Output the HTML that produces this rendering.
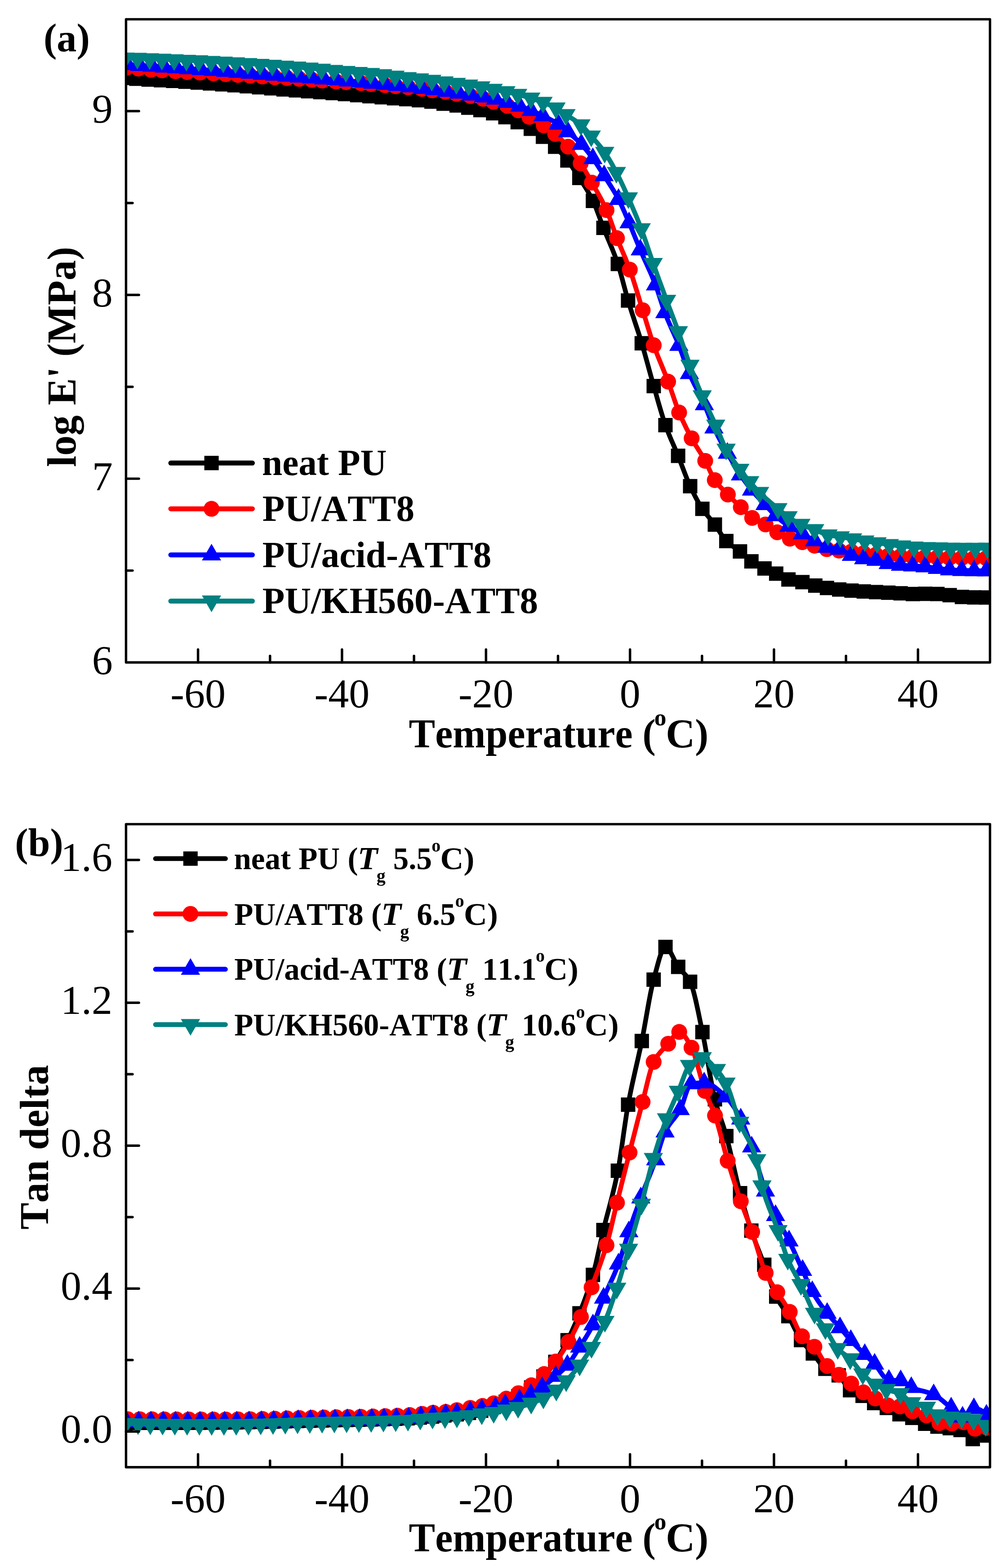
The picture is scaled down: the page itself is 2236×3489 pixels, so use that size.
<!DOCTYPE html><html><head><meta charset="utf-8"><style>html,body{margin:0;padding:0;background:#fff;}svg{display:block;font-kerning:none;}text{font-family:'Liberation Serif','Times New Roman',serif;}.tl{font-family:'Liberation Serif','Times New Roman',serif;font-size:92px;}.ax{font-family:'Liberation Serif','Times New Roman',serif;font-size:90px;font-weight:bold;}.lga{font-family:'Liberation Serif','Times New Roman',serif;font-size:80px;font-weight:bold;}.lgb{font-family:'Liberation Serif','Times New Roman',serif;font-size:69px;font-weight:bold;}.sub{font-size:44px;}.sup{font-size:44px;}</style></head><body>
<svg width="2236" height="3489" viewBox="0 0 2236 3489">
<rect width="2236" height="3489" fill="#fff"/>
<defs><clipPath id="ca"><rect x="280.4" y="42.9" width="1922.2" height="1431.1"/></clipPath><clipPath id="cb"><rect x="280.4" y="1833.9" width="1922.2" height="1430.8"/></clipPath></defs>
<g clip-path="url(#ca)">
<path d="M276.1 173.4 L279.1 173.6 L282.2 173.8 L285.2 174 L288.2 174.2 L291.3 174.4 L294.3 174.6 L297.3 174.8 L300.4 175 L303.4 175.2 L306.4 175.4 L309.5 175.6 L312.5 175.8 L315.5 176 L318.6 176.2 L321.6 176.5 L324.6 176.7 L327.7 176.9 L330.7 177 L333.7 177.2 L336.8 177.4 L339.8 177.6 L342.8 177.7 L345.9 177.9 L348.9 178 L351.9 178.2 L355 178.4 L358 178.5 L361 178.7 L364.1 178.8 L367.1 179 L370.1 179.2 L373.2 179.3 L376.2 179.5 L379.2 179.7 L382.3 179.8 L385.3 180 L388.3 180.2 L391.4 180.4 L394.4 180.6 L397.4 180.8 L400.5 181 L403.5 181.2 L406.5 181.4 L409.6 181.6 L412.6 181.8 L415.6 182 L418.7 182.2 L421.7 182.4 L424.7 182.6 L427.8 182.8 L430.8 183 L433.8 183.3 L436.9 183.5 L439.9 183.7 L442.9 183.9 L446 184.1 L449 184.3 L452 184.5 L455.1 184.7 L458.1 184.9 L461.1 185.1 L464.2 185.4 L467.2 185.6 L470.2 185.8 L473.3 186 L476.3 186.2 L479.3 186.5 L482.4 186.7 L485.4 186.9 L488.4 187.1 L491.5 187.4 L494.5 187.6 L497.5 187.8 L500.6 188.1 L503.6 188.3 L506.6 188.5 L509.7 188.8 L512.7 189 L515.7 189.2 L518.8 189.5 L521.8 189.7 L524.8 190 L527.9 190.2 L530.9 190.5 L533.9 190.7 L537 191 L540 191.2 L543 191.5 L546.1 191.7 L549.1 191.9 L552.1 192.2 L555.2 192.4 L558.2 192.7 L561.2 192.9 L564.3 193.2 L567.3 193.4 L570.3 193.7 L573.4 193.9 L576.4 194.2 L579.4 194.5 L582.5 194.7 L585.5 195 L588.5 195.2 L591.6 195.5 L594.6 195.8 L597.6 196 L600.7 196.3 L603.7 196.5 L606.7 196.8 L609.8 197.1 L612.8 197.3 L615.8 197.6 L618.9 197.9 L621.9 198.1 L624.9 198.4 L628 198.7 L631 198.9 L634 199.2 L637.1 199.4 L640.1 199.6 L643.1 199.9 L646.2 200.1 L649.2 200.3 L652.2 200.6 L655.3 200.8 L658.3 201 L661.3 201.2 L664.4 201.5 L667.4 201.7 L670.4 201.9 L673.5 202.1 L676.5 202.3 L679.5 202.5 L682.6 202.7 L685.6 203 L688.6 203.2 L691.7 203.4 L694.7 203.6 L697.7 203.8 L700.8 204.1 L703.8 204.3 L706.8 204.5 L709.9 204.7 L712.9 205 L715.9 205.2 L719 205.4 L722 205.7 L725 205.9 L728.1 206.1 L731.1 206.3 L734.1 206.6 L737.2 206.8 L740.2 207.1 L743.2 207.3 L746.3 207.5 L749.3 207.8 L752.3 208 L755.4 208.3 L758.4 208.5 L761.4 208.8 L764.5 209 L767.5 209.3 L770.5 209.5 L773.6 209.8 L776.6 210.1 L779.6 210.3 L782.7 210.6 L785.7 210.9 L788.7 211.1 L791.8 211.4 L794.8 211.7 L797.8 211.9 L800.9 212.2 L803.9 212.5 L806.9 212.7 L810 213 L813 213.3 L816 213.5 L819.1 213.8 L822.1 214.1 L825.1 214.3 L828.2 214.6 L831.2 214.9 L834.2 215.1 L837.3 215.4 L840.3 215.7 L843.3 215.9 L846.4 216.2 L849.4 216.4 L852.4 216.7 L855.5 216.9 L858.5 217.2 L861.5 217.4 L864.6 217.7 L867.6 217.9 L870.6 218.1 L873.7 218.4 L876.7 218.6 L879.7 218.8 L882.8 219.1 L885.8 219.3 L888.8 219.5 L891.9 219.7 L894.9 219.9 L897.9 220.1 L901 220.4 L904 220.6 L907.1 220.8 L910.2 221.1 L913.3 221.3 L916.4 221.6 L919.6 221.9 L922.7 222.1 L925.8 222.4 L928.9 222.7 L932 223 L935.1 223.3 L938.2 223.6 L941.3 223.9 L944.4 224.3 L947.6 224.6 L950.7 224.9 L953.8 225.3 L956.9 225.7 L960 226.1 L963 226.5 L966 227 L969 227.5 L972 228.1 L975 228.6 L978 229.2 L981 229.7 L984 230.2 L987 230.7 L990.2 231.2 L993.4 231.6 L996.7 232 L999.9 232.4 L1003.1 232.8 L1006.3 233.2 L1009.6 233.7 L1012.8 234.1 L1016 234.6 L1019.2 235.1 L1022.5 235.7 L1025.8 236.3 L1029 237 L1032.2 237.6 L1035.5 238.3 L1038.8 239 L1042 239.6 L1045 240.2 L1048 240.8 L1051 241.3 L1054 241.9 L1057 242.5 L1060 243.1 L1063 243.7 L1066 244.3 L1069 245 L1072.1 245.7 L1075.3 246.4 L1078.4 247.2 L1081.5 247.9 L1084.7 248.7 L1087.8 249.5 L1090.9 250.3 L1094.1 251.1 L1097.2 252 L1100.2 252.9 L1103.3 253.7 L1106.3 254.7 L1109.3 255.6 L1112.4 256.6 L1115.4 257.6 L1118.4 258.6 L1121.5 259.6 L1124.5 260.7 L1127.5 261.8 L1130.6 262.9 L1133.6 264.1 L1136.6 265.3 L1139.7 266.6 L1142.7 267.8 L1145.7 269.1 L1148.8 270.4 L1151.8 271.8 L1155 273.3 L1158.3 274.8 L1161.5 276.3 L1164.8 277.9 L1168 279.5 L1171.3 281.2 L1174.5 282.9 L1177.8 284.7 L1181 286.5 L1184 288.2 L1187 290.1 L1190 291.9 L1193 293.9 L1196 295.9 L1199 297.9 L1202 300 L1205 302.1 L1208 304.3 L1211 306.5 L1214 308.8 L1217 311.1 L1220 313.5 L1223.1 315.9 L1226.1 318.4 L1229.1 321 L1232.1 323.7 L1235.1 326.5 L1238.1 329.4 L1241.2 332.5 L1244.2 335.7 L1247.2 339 L1250.3 342.4 L1253.3 345.9 L1256.3 349.5 L1259.4 353.2 L1262.4 357 L1265.7 361.3 L1269.1 365.9 L1272.4 370.6 L1275.7 375.5 L1279 380.5 L1282.3 385.5 L1285.7 390.7 L1289 395.9 L1292 400.6 L1295 405.3 L1298.1 410 L1301.1 414.7 L1304.1 419.6 L1307.1 424.6 L1310.1 429.8 L1313.2 435.2 L1316.2 441 L1319.2 447 L1322.5 454.3 L1325.9 462.4 L1329.2 471.1 L1332.6 480.1 L1335.9 489.3 L1339.3 498.3 L1342.6 507 L1345.8 515 L1349 522.7 L1352.2 530.3 L1355.4 537.8 L1358.6 545.4 L1361.8 553.1 L1365 561.1 L1368.2 569.4 L1371.4 578.1 L1374.6 587.3 L1377.9 597.6 L1381.1 608.9 L1384.4 620.8 L1387.6 633.1 L1390.9 645.4 L1394.1 657.4 L1397.4 668.7 L1400.4 678.7 L1403.5 688.4 L1406.5 697.8 L1409.6 707.1 L1412.6 716.3 L1415.6 725.5 L1418.7 734.7 L1421.7 744.2 L1424.8 753.8 L1427.8 763.8 L1431.1 775.2 L1434.5 786.9 L1437.8 798.9 L1441.2 811.1 L1444.5 823.3 L1447.8 835.4 L1451.2 847.4 L1454.5 859.1 L1457.8 870.4 L1461 881.9 L1464.2 893.3 L1467.5 904.6 L1470.8 915.7 L1474 926.3 L1477.2 936.5 L1480.5 946 L1483.6 954.5 L1486.8 962.6 L1489.9 970.3 L1493 977.7 L1496.2 985 L1499.3 992.2 L1502.4 999.4 L1505.6 1006.7 L1508.7 1014.3 L1512 1022.8 L1515.4 1031.5 L1518.8 1040.3 L1522.1 1049.2 L1525.5 1057.9 L1528.8 1066.3 L1532.2 1074.3 L1535.5 1081.8 L1538.5 1088.2 L1541.5 1094.4 L1544.6 1100.4 L1547.6 1106.3 L1550.6 1112 L1553.6 1117.4 L1556.7 1122.6 L1559.7 1127.5 L1562.7 1132.2 L1565.8 1136.7 L1568.9 1140.8 L1572 1144.7 L1575.1 1148.5 L1578.1 1152.1 L1581.2 1155.8 L1584.3 1159.4 L1587.4 1163.3 L1590.5 1167.3 L1593.7 1171.8 L1596.9 1176.6 L1600.1 1181.7 L1603.2 1186.7 L1606.4 1191.6 L1609.6 1196.2 L1612.8 1200.3 L1616 1203.9 L1619 1206.8 L1622.1 1209.4 L1625.1 1211.8 L1628.2 1214 L1631.2 1216.2 L1634.2 1218.2 L1637.3 1220.3 L1640.3 1222.4 L1643.4 1224.6 L1646.4 1227 L1649.6 1229.7 L1652.8 1232.6 L1655.9 1235.5 L1659.1 1238.5 L1662.3 1241.4 L1665.5 1244.2 L1668.6 1246.8 L1671.8 1249.1 L1675 1251.2 L1678.3 1253.2 L1681.5 1255 L1684.7 1256.8 L1688 1258.5 L1691.2 1260.2 L1694.4 1261.8 L1697.7 1263.3 L1700.9 1264.9 L1704.2 1266.4 L1707.4 1267.9 L1710.7 1269.3 L1713.9 1270.7 L1717.2 1272.1 L1720.4 1273.5 L1723.7 1274.9 L1726.9 1276.4 L1729.9 1277.9 L1733 1279.4 L1736 1281.1 L1739 1282.7 L1742.1 1284.3 L1745.1 1285.8 L1748.1 1287.2 L1751.2 1288.4 L1754.2 1289.4 L1757.3 1290.2 L1760.4 1290.9 L1763.5 1291.5 L1766.6 1292 L1769.8 1292.5 L1772.9 1293 L1776 1293.5 L1779.1 1294.1 L1782.2 1294.6 L1785.3 1295.3 L1788.5 1296.1 L1791.7 1296.9 L1794.8 1297.8 L1798 1298.7 L1801.2 1299.6 L1804.4 1300.5 L1807.5 1301.4 L1810.7 1302.2 L1813.9 1303 L1817.2 1303.7 L1820.4 1304.5 L1823.7 1305.2 L1826.9 1305.9 L1830.2 1306.6 L1833.4 1307.2 L1836.7 1307.8 L1839.9 1308.3 L1842.9 1308.8 L1846 1309.2 L1849 1309.6 L1852 1310 L1855.1 1310.4 L1858.1 1310.7 L1861.1 1311.1 L1864.2 1311.4 L1867.2 1311.7 L1870.2 1312 L1873.3 1312.3 L1876.3 1312.6 L1879.3 1312.9 L1882.4 1313.2 L1885.4 1313.4 L1888.4 1313.7 L1891.5 1314 L1894.5 1314.2 L1897.5 1314.4 L1900.6 1314.7 L1903.6 1314.9 L1906.6 1315.1 L1909.7 1315.3 L1912.7 1315.5 L1915.7 1315.7 L1918.8 1315.9 L1921.8 1316.1 L1924.8 1316.3 L1927.9 1316.4 L1930.9 1316.6 L1933.9 1316.7 L1937 1316.9 L1940 1317 L1943 1317.2 L1946.1 1317.3 L1949.1 1317.5 L1952.1 1317.6 L1955.2 1317.8 L1958.2 1317.9 L1961.2 1318.1 L1964.3 1318.2 L1967.3 1318.4 L1970.3 1318.5 L1973.4 1318.7 L1976.4 1318.8 L1979.4 1319 L1982.5 1319.1 L1985.5 1319.3 L1988.5 1319.4 L1991.6 1319.6 L1994.6 1319.7 L1997.6 1319.9 L2000.7 1320 L2003.7 1320.2 L2006.7 1320.4 L2009.8 1320.6 L2012.8 1320.8 L2015.8 1321.1 L2018.9 1321.3 L2021.9 1321.5 L2024.9 1321.7 L2028 1321.8 L2031 1321.8 L2034 1321.8 L2037.1 1321.8 L2040.1 1321.7 L2043.1 1321.6 L2046.2 1321.5 L2049.2 1321.5 L2052.2 1321.4 L2055.3 1321.4 L2058.3 1321.3 L2061.3 1321.3 L2064.4 1321.4 L2067.4 1321.4 L2070.4 1321.4 L2073.5 1321.4 L2076.5 1321.5 L2079.5 1321.5 L2082.6 1321.6 L2085.6 1321.7 L2088.6 1321.8 L2091.7 1322 L2094.7 1322.2 L2097.7 1322.5 L2100.8 1322.8 L2103.8 1323.2 L2106.8 1323.6 L2109.9 1323.9 L2112.9 1324.3 L2115.9 1324.7 L2119 1325.2 L2122 1325.7 L2125 1326.2 L2128.1 1326.8 L2131.1 1327.3 L2134.1 1327.7 L2137.2 1328.1 L2140.2 1328.3 L2143.2 1328.5 L2146.3 1328.6 L2149.3 1328.8 L2152.3 1328.9 L2155.4 1329 L2158.4 1329.1 L2161.4 1329.2 L2164.5 1329.2 L2167.5 1329.3 L2170.5 1329.3 L2173.6 1329.3 L2176.6 1329.4 L2179.6 1329.4 L2182.7 1329.4 L2185.7 1329.5 L2188.7 1329.5 L2191.8 1329.5 L2194.8 1329.5" fill="none" stroke="#000000" stroke-width="10.5" stroke-linejoin="round" stroke-linecap="round"/>
<rect x="260.1" y="157.4" width="32" height="32" fill="#000000"/>
<rect x="287.4" y="159.2" width="32" height="32" fill="#000000"/>
<rect x="314.7" y="161" width="32" height="32" fill="#000000"/>
<rect x="342" y="162.5" width="32" height="32" fill="#000000"/>
<rect x="369.3" y="164" width="32" height="32" fill="#000000"/>
<rect x="396.6" y="165.8" width="32" height="32" fill="#000000"/>
<rect x="423.9" y="167.7" width="32" height="32" fill="#000000"/>
<rect x="451.2" y="169.6" width="32" height="32" fill="#000000"/>
<rect x="478.5" y="171.6" width="32" height="32" fill="#000000"/>
<rect x="505.8" y="173.7" width="32" height="32" fill="#000000"/>
<rect x="533.1" y="175.9" width="32" height="32" fill="#000000"/>
<rect x="560.4" y="178.2" width="32" height="32" fill="#000000"/>
<rect x="587.7" y="180.5" width="32" height="32" fill="#000000"/>
<rect x="615" y="182.9" width="32" height="32" fill="#000000"/>
<rect x="642.3" y="185" width="32" height="32" fill="#000000"/>
<rect x="669.6" y="187" width="32" height="32" fill="#000000"/>
<rect x="696.9" y="189" width="32" height="32" fill="#000000"/>
<rect x="724.2" y="191.1" width="32" height="32" fill="#000000"/>
<rect x="751.5" y="193.3" width="32" height="32" fill="#000000"/>
<rect x="778.8" y="195.7" width="32" height="32" fill="#000000"/>
<rect x="806.1" y="198.1" width="32" height="32" fill="#000000"/>
<rect x="833.4" y="200.4" width="32" height="32" fill="#000000"/>
<rect x="860.7" y="202.6" width="32" height="32" fill="#000000"/>
<rect x="888" y="204.6" width="32" height="32" fill="#000000"/>
<rect x="916" y="207" width="32" height="32" fill="#000000"/>
<rect x="944" y="210.1" width="32" height="32" fill="#000000"/>
<rect x="971" y="214.7" width="32" height="32" fill="#000000"/>
<rect x="1000" y="218.6" width="32" height="32" fill="#000000"/>
<rect x="1026" y="223.6" width="32" height="32" fill="#000000"/>
<rect x="1053" y="229" width="32" height="32" fill="#000000"/>
<rect x="1081.2" y="236" width="32" height="32" fill="#000000"/>
<rect x="1108.5" y="244.7" width="32" height="32" fill="#000000"/>
<rect x="1135.8" y="255.8" width="32" height="32" fill="#000000"/>
<rect x="1165" y="270.5" width="32" height="32" fill="#000000"/>
<rect x="1192" y="288.3" width="32" height="32" fill="#000000"/>
<rect x="1219.1" y="310.5" width="32" height="32" fill="#000000"/>
<rect x="1246.4" y="341" width="32" height="32" fill="#000000"/>
<rect x="1273" y="379.9" width="32" height="32" fill="#000000"/>
<rect x="1303.2" y="431" width="32" height="32" fill="#000000"/>
<rect x="1326.6" y="491" width="32" height="32" fill="#000000"/>
<rect x="1358.6" y="571.3" width="32" height="32" fill="#000000"/>
<rect x="1381.4" y="652.7" width="32" height="32" fill="#000000"/>
<rect x="1411.8" y="747.8" width="32" height="32" fill="#000000"/>
<rect x="1438.5" y="843.1" width="32" height="32" fill="#000000"/>
<rect x="1464.5" y="930" width="32" height="32" fill="#000000"/>
<rect x="1492.7" y="998.3" width="32" height="32" fill="#000000"/>
<rect x="1519.5" y="1065.8" width="32" height="32" fill="#000000"/>
<rect x="1546.7" y="1116.2" width="32" height="32" fill="#000000"/>
<rect x="1574.5" y="1151.3" width="32" height="32" fill="#000000"/>
<rect x="1600" y="1187.9" width="32" height="32" fill="#000000"/>
<rect x="1630.4" y="1211" width="32" height="32" fill="#000000"/>
<rect x="1655.8" y="1233.1" width="32" height="32" fill="#000000"/>
<rect x="1684.9" y="1248.9" width="32" height="32" fill="#000000"/>
<rect x="1710.9" y="1260.4" width="32" height="32" fill="#000000"/>
<rect x="1738.2" y="1273.4" width="32" height="32" fill="#000000"/>
<rect x="1769.3" y="1279.3" width="32" height="32" fill="#000000"/>
<rect x="1797.9" y="1287" width="32" height="32" fill="#000000"/>
<rect x="1823.9" y="1292.3" width="32" height="32" fill="#000000"/>
<rect x="1851.2" y="1295.7" width="32" height="32" fill="#000000"/>
<rect x="1878.5" y="1298.2" width="32" height="32" fill="#000000"/>
<rect x="1905.8" y="1300.1" width="32" height="32" fill="#000000"/>
<rect x="1933.1" y="1301.5" width="32" height="32" fill="#000000"/>
<rect x="1960.4" y="1302.8" width="32" height="32" fill="#000000"/>
<rect x="1987.7" y="1304.2" width="32" height="32" fill="#000000"/>
<rect x="2015" y="1305.8" width="32" height="32" fill="#000000"/>
<rect x="2042.3" y="1305.3" width="32" height="32" fill="#000000"/>
<rect x="2069.6" y="1305.7" width="32" height="32" fill="#000000"/>
<rect x="2096.9" y="1308.3" width="32" height="32" fill="#000000"/>
<rect x="2124.2" y="1312.3" width="32" height="32" fill="#000000"/>
<rect x="2151.5" y="1313.3" width="32" height="32" fill="#000000"/>
<rect x="2178.8" y="1313.5" width="32" height="32" fill="#000000"/>
</g>
<g clip-path="url(#ca)">
<path d="M280.6 151 L283.6 151.1 L286.7 151.3 L289.7 151.4 L292.7 151.6 L295.8 151.8 L298.8 152 L301.8 152.2 L304.9 152.4 L307.9 152.6 L311 152.8 L314.1 153.1 L317.2 153.4 L320.3 153.8 L323.4 154.1 L326.5 154.4 L329.6 154.7 L332.7 155 L335.8 155.2 L338.9 155.4 L342 155.6 L345.1 155.7 L348.1 155.9 L351.2 156 L354.3 156.2 L357.4 156.3 L360.5 156.5 L363.8 156.7 L367.1 156.9 L370.5 157.1 L373.8 157.3 L377.1 157.6 L380.4 157.8 L383.8 158 L387.1 158.3 L390.4 158.5 L393.6 158.7 L396.9 159 L400.1 159.3 L403.4 159.5 L406.6 159.8 L409.9 160 L413.1 160.2 L416.4 160.4 L419.6 160.6 L422.7 160.7 L425.9 160.8 L429.1 160.9 L432.2 161 L435.4 161.1 L438.6 161.2 L441.7 161.4 L444.9 161.5 L448.2 161.7 L451.5 161.8 L454.9 162 L458.2 162.2 L461.5 162.5 L464.8 162.7 L468.2 162.9 L471.5 163.1 L474.8 163.3 L477.8 163.5 L480.9 163.7 L483.9 163.9 L486.9 164.1 L490 164.2 L493 164.4 L496 164.6 L499 164.8 L502.1 165 L505.1 165.2 L508.1 165.4 L511.2 165.6 L514.2 165.8 L517.2 166 L520.3 166.2 L523.3 166.4 L526.3 166.6 L529.3 166.8 L532.4 166.9 L535.4 167.1 L538.4 167.3 L541.5 167.5 L544.5 167.7 L547.5 167.9 L550.6 168.1 L553.6 168.3 L556.6 168.5 L559.6 168.7 L562.7 168.9 L565.7 169.1 L568.7 169.3 L571.8 169.5 L574.8 169.7 L577.8 169.9 L580.9 170.1 L583.9 170.2 L586.9 170.4 L589.9 170.6 L593 170.8 L596 171 L599 171.2 L602.1 171.4 L605.1 171.5 L608.1 171.7 L611.2 171.9 L614.2 172.1 L617.2 172.3 L620.2 172.5 L623.3 172.6 L626.3 172.8 L629.3 173 L632.4 173.2 L635.4 173.4 L638.4 173.6 L641.5 173.8 L644.5 174 L647.5 174.2 L650.5 174.4 L653.6 174.6 L656.6 174.8 L659.6 175 L662.7 175.2 L665.7 175.4 L668.8 175.6 L671.9 175.9 L675.1 176.1 L678.2 176.4 L681.3 176.6 L684.4 176.9 L687.6 177.1 L690.7 177.4 L693.8 177.6 L697.1 177.8 L700.5 178.1 L703.8 178.3 L707.1 178.5 L710.4 178.8 L713.8 179 L717.1 179.2 L720.1 179.4 L723.2 179.6 L726.2 179.8 L729.3 180 L732.3 180.2 L735.3 180.4 L738.4 180.6 L741.4 180.8 L744.5 181 L747.5 181.2 L750.7 181.4 L754 181.7 L757.2 181.9 L760.4 182.1 L763.6 182.3 L766.9 182.6 L770.1 182.8 L773.1 183 L776.2 183.2 L779.2 183.4 L782.3 183.6 L785.3 183.8 L788.4 184 L791.4 184.2 L794.5 184.4 L797.5 184.6 L800.6 184.9 L803.6 185.1 L806.7 185.4 L809.8 185.6 L812.9 185.9 L816.1 186.2 L819.2 186.5 L822.3 186.8 L825.4 187.1 L828.5 187.4 L831.6 187.6 L834.8 187.8 L837.9 188.1 L841 188.3 L844.1 188.5 L847.2 188.8 L850.4 189 L853.5 189.2 L856.6 189.5 L860 189.8 L863.4 190.1 L866.8 190.5 L870.1 190.8 L873.5 191.1 L876.9 191.5 L880.3 191.8 L883.4 192.1 L886.5 192.3 L889.6 192.6 L892.7 192.8 L895.9 193.1 L899 193.4 L902.1 193.6 L905.2 193.9 L908.3 194.2 L911.3 194.5 L914.4 194.8 L917.4 195.2 L920.5 195.5 L923.5 195.9 L926.5 196.3 L929.6 196.7 L932.6 197 L935.7 197.4 L938.7 197.8 L942 198.2 L945.4 198.7 L948.7 199.1 L952.1 199.6 L955.4 200 L958.8 200.5 L962.1 200.9 L965.3 201.3 L968.5 201.7 L971.7 202 L974.9 202.4 L978.1 202.7 L981.3 203.1 L984.5 203.5 L987.7 203.9 L990.9 204.3 L994 204.8 L997.1 205.3 L1000.2 205.8 L1003.3 206.4 L1006.5 207 L1009.6 207.6 L1012.7 208.2 L1015.8 208.7 L1018.9 209.2 L1022 209.7 L1025.2 210.2 L1028.3 210.7 L1031.4 211.1 L1034.5 211.6 L1037.6 212.1 L1040.8 212.6 L1043.9 213.1 L1047 213.7 L1050.1 214.3 L1053.3 214.9 L1056.4 215.6 L1059.5 216.3 L1062.7 217 L1065.8 217.7 L1068.9 218.4 L1072.1 219.2 L1075.2 220 L1078.4 220.9 L1081.6 221.8 L1084.8 222.7 L1088.1 223.7 L1091.3 224.7 L1094.5 225.6 L1097.7 226.6 L1100.8 227.5 L1103.9 228.4 L1107.1 229.2 L1110.2 230.1 L1113.3 231 L1116.4 231.8 L1119.5 232.7 L1122.7 233.7 L1125.8 234.7 L1128.9 235.7 L1132 236.8 L1135 237.8 L1138 239 L1141.1 240.2 L1144.2 241.4 L1147.2 242.7 L1150.2 244.1 L1153.3 245.5 L1156.3 247 L1159.4 248.7 L1162.4 250.6 L1165.4 252.5 L1168.5 254.4 L1171.5 256.3 L1174.6 258.3 L1177.6 260.1 L1180.8 262 L1184 263.8 L1187.3 265.6 L1190.5 267.5 L1193.7 269.3 L1196.9 271.1 L1200.1 273 L1203.4 274.9 L1206.6 276.9 L1209.8 279 L1213 281.1 L1216.1 283.3 L1219.3 285.6 L1222.4 288 L1225.6 290.4 L1228.8 292.9 L1231.9 295.5 L1235.1 298.1 L1238.3 300.9 L1241.5 303.7 L1244.7 306.7 L1247.9 309.7 L1251.2 312.8 L1254.4 316.1 L1257.6 319.4 L1260.8 322.8 L1264 326.4 L1267.1 330 L1270.2 333.7 L1273.3 337.6 L1276.4 341.5 L1279.5 345.7 L1282.6 349.9 L1285.7 354.3 L1288.8 358.8 L1291.9 363.4 L1295 368.2 L1298.2 373.3 L1301.3 378.6 L1304.4 384 L1307.5 389.5 L1310.7 395.1 L1313.8 400.8 L1316.9 406.4 L1320.2 412.2 L1323.4 417.9 L1326.7 423.6 L1329.9 429.3 L1333.2 435.2 L1336.4 441.1 L1339.7 447.3 L1342.9 453.7 L1346.2 460.4 L1349.4 467.5 L1352.7 475.4 L1356.1 484 L1359.4 493.1 L1362.7 502.4 L1366 511.9 L1369.4 521.1 L1372.7 529.9 L1375.9 537.9 L1379.1 545.6 L1382.2 553.1 L1385.4 560.5 L1388.6 568 L1391.8 575.6 L1394.9 583.4 L1398.1 591.5 L1401.3 600 L1404.5 609 L1407.7 618.5 L1410.8 628.4 L1414 638.6 L1417.2 648.9 L1420.4 659.3 L1423.5 669.8 L1426.7 680.1 L1429.9 690.3 L1433 700.1 L1436.1 710.2 L1439.1 720.2 L1442.2 730.3 L1445.3 740.2 L1448.3 749.9 L1451.4 759.3 L1454.5 768.2 L1457.7 777 L1460.9 785.5 L1464.1 793.6 L1467.3 801.5 L1470.5 809.3 L1473.7 817.1 L1476.9 824.9 L1480.1 832.7 L1483.3 840.8 L1486.5 849.2 L1489.6 857.6 L1492.6 866.4 L1495.7 875.4 L1498.8 884.4 L1501.8 893.3 L1504.9 902 L1507.9 910.2 L1511 917.9 L1514.1 925.1 L1517.2 932.1 L1520.3 938.8 L1523.4 945.3 L1526.4 951.6 L1529.5 957.7 L1532.6 963.7 L1535.7 969.6 L1538.8 975.3 L1541.8 980.7 L1544.8 985.9 L1547.9 990.9 L1550.9 995.7 L1553.9 1000.5 L1556.9 1005.2 L1559.9 1010 L1563 1015 L1566 1020.1 L1569 1025.5 L1572 1031.4 L1575.1 1037.9 L1578.1 1044.6 L1581.2 1051.2 L1584.2 1057.6 L1587.3 1063.4 L1590.3 1068.3 L1593.5 1072.8 L1596.8 1076.9 L1600 1080.7 L1603.2 1084.2 L1606.5 1087.6 L1609.7 1090.8 L1612.9 1094 L1616.2 1097.2 L1619.4 1100.5 L1622.6 1103.8 L1625.8 1107 L1629 1110.2 L1632.2 1113.3 L1635.4 1116.4 L1638.6 1119.4 L1641.8 1122.5 L1645 1125.5 L1648.2 1128.6 L1651.4 1131.7 L1654.5 1135 L1657.7 1138.3 L1660.8 1141.5 L1664 1144.7 L1667.1 1147.6 L1670.2 1150.2 L1673.4 1152.5 L1676.7 1154.5 L1680 1156.3 L1683.3 1157.9 L1686.6 1159.4 L1690 1160.8 L1693.3 1162.2 L1696.6 1163.6 L1699.9 1165.2 L1703.2 1167 L1706.5 1168.9 L1709.7 1171.1 L1713 1173.3 L1716.2 1175.7 L1719.5 1178 L1722.7 1180.3 L1726 1182.4 L1729.2 1184.4 L1732.3 1186.2 L1735.4 1188 L1738.6 1189.8 L1741.7 1191.5 L1744.8 1193.1 L1747.9 1194.7 L1751.1 1196.2 L1754.2 1197.5 L1757.3 1198.7 L1760.4 1199.8 L1763.5 1200.7 L1766.6 1201.6 L1769.7 1202.5 L1772.7 1203.3 L1775.8 1204.1 L1778.9 1204.8 L1782 1205.7 L1785.1 1206.5 L1788.1 1207.4 L1791.1 1208.2 L1794.2 1209.1 L1797.2 1210 L1800.2 1210.8 L1803.2 1211.7 L1806.3 1212.6 L1809.3 1213.4 L1812.3 1214.3 L1815.3 1215.2 L1818.4 1216.1 L1821.4 1217.1 L1824.4 1218.1 L1827.5 1219 L1830.5 1219.9 L1833.5 1220.7 L1836.6 1221.4 L1839.6 1222 L1842.6 1222.5 L1845.7 1222.9 L1848.7 1223.3 L1851.7 1223.7 L1854.8 1224 L1857.8 1224.3 L1860.8 1224.6 L1863.9 1224.9 L1866.9 1225.2 L1869.9 1225.5 L1873 1225.7 L1876 1226 L1879 1226.2 L1882.1 1226.4 L1885.1 1226.6 L1888.1 1226.9 L1891.2 1227.1 L1894.2 1227.4 L1897.2 1227.8 L1900.3 1228.1 L1903.3 1228.5 L1906.3 1228.9 L1909.4 1229.3 L1912.4 1229.7 L1915.4 1230.1 L1918.5 1230.5 L1921.5 1230.9 L1924.5 1231.3 L1927.6 1231.7 L1930.6 1232.1 L1933.6 1232.5 L1936.7 1232.9 L1939.7 1233.3 L1942.7 1233.7 L1945.8 1234.1 L1948.8 1234.4 L1951.8 1234.7 L1954.9 1235.1 L1957.9 1235.4 L1960.9 1235.8 L1964 1236.1 L1967 1236.4 L1970 1236.6 L1973.1 1236.9 L1976.1 1237.1 L1979.1 1237.2 L1982.2 1237.4 L1985.2 1237.5 L1988.2 1237.6 L1991.3 1237.7 L1994.3 1237.8 L1997.3 1237.9 L2000.4 1238 L2003.4 1238.1 L2006.4 1238.2 L2009.5 1238.3 L2012.5 1238.5 L2015.5 1238.6 L2018.6 1238.7 L2021.6 1238.8 L2024.6 1238.9 L2027.7 1239 L2030.7 1239.1 L2033.7 1239.2 L2036.8 1239.3 L2039.8 1239.4 L2042.8 1239.5 L2045.9 1239.6 L2048.9 1239.7 L2051.9 1239.8 L2055 1239.9 L2058 1240 L2061 1240.1 L2064.1 1240.2 L2067.1 1240.3 L2070.1 1240.4 L2073.2 1240.4 L2076.2 1240.5 L2079.2 1240.6 L2082.3 1240.7 L2085.3 1240.7 L2088.3 1240.8 L2091.4 1240.8 L2094.4 1240.9 L2097.4 1241 L2100.5 1241 L2103.5 1241 L2106.5 1241.1 L2109.6 1241.1 L2112.6 1241.2 L2115.6 1241.2 L2118.7 1241.3 L2121.7 1241.3 L2124.7 1241.4 L2127.8 1241.4 L2130.8 1241.4 L2133.8 1241.5 L2136.9 1241.5 L2139.9 1241.6 L2142.9 1241.6 L2146 1241.6 L2149 1241.7 L2152 1241.7 L2155.1 1241.7 L2158.1 1241.8 L2161.1 1241.8 L2164.2 1241.8 L2167.2 1241.8 L2170.2 1241.9 L2173.3 1241.9 L2176.3 1241.9 L2179.3 1241.9 L2182.4 1241.9 L2185.4 1242 L2188.4 1242 L2191.5 1242 L2194.5 1242" fill="none" stroke="#ff0000" stroke-width="10.5" stroke-linejoin="round" stroke-linecap="round"/>
<circle cx="280.6" cy="151" r="17.6" fill="#ff0000"/>
<circle cx="307.9" cy="152.6" r="17.6" fill="#ff0000"/>
<circle cx="335.8" cy="155.2" r="17.6" fill="#ff0000"/>
<circle cx="360.5" cy="156.5" r="17.6" fill="#ff0000"/>
<circle cx="390.4" cy="158.5" r="17.6" fill="#ff0000"/>
<circle cx="416.4" cy="160.4" r="17.6" fill="#ff0000"/>
<circle cx="444.9" cy="161.5" r="17.6" fill="#ff0000"/>
<circle cx="474.8" cy="163.3" r="17.6" fill="#ff0000"/>
<circle cx="502.1" cy="165" r="17.6" fill="#ff0000"/>
<circle cx="529.3" cy="166.8" r="17.6" fill="#ff0000"/>
<circle cx="556.6" cy="168.5" r="17.6" fill="#ff0000"/>
<circle cx="583.9" cy="170.2" r="17.6" fill="#ff0000"/>
<circle cx="611.2" cy="171.9" r="17.6" fill="#ff0000"/>
<circle cx="638.4" cy="173.6" r="17.6" fill="#ff0000"/>
<circle cx="665.7" cy="175.4" r="17.6" fill="#ff0000"/>
<circle cx="693.8" cy="177.6" r="17.6" fill="#ff0000"/>
<circle cx="717.1" cy="179.2" r="17.6" fill="#ff0000"/>
<circle cx="747.5" cy="181.2" r="17.6" fill="#ff0000"/>
<circle cx="770.1" cy="182.8" r="17.6" fill="#ff0000"/>
<circle cx="803.6" cy="185.1" r="17.6" fill="#ff0000"/>
<circle cx="825.4" cy="187.1" r="17.6" fill="#ff0000"/>
<circle cx="856.6" cy="189.5" r="17.6" fill="#ff0000"/>
<circle cx="880.3" cy="191.8" r="17.6" fill="#ff0000"/>
<circle cx="908.3" cy="194.2" r="17.6" fill="#ff0000"/>
<circle cx="938.7" cy="197.8" r="17.6" fill="#ff0000"/>
<circle cx="962.1" cy="200.9" r="17.6" fill="#ff0000"/>
<circle cx="990.9" cy="204.3" r="17.6" fill="#ff0000"/>
<circle cx="1015.8" cy="208.7" r="17.6" fill="#ff0000"/>
<circle cx="1047" cy="213.7" r="17.6" fill="#ff0000"/>
<circle cx="1075.2" cy="220" r="17.6" fill="#ff0000"/>
<circle cx="1097.7" cy="226.6" r="17.6" fill="#ff0000"/>
<circle cx="1128.9" cy="235.7" r="17.6" fill="#ff0000"/>
<circle cx="1153.3" cy="245.5" r="17.6" fill="#ff0000"/>
<circle cx="1177.6" cy="260.1" r="17.6" fill="#ff0000"/>
<circle cx="1209.8" cy="279" r="17.6" fill="#ff0000"/>
<circle cx="1235.1" cy="298.1" r="17.6" fill="#ff0000"/>
<circle cx="1264" cy="326.4" r="17.6" fill="#ff0000"/>
<circle cx="1291.9" cy="363.4" r="17.6" fill="#ff0000"/>
<circle cx="1316.9" cy="406.4" r="17.6" fill="#ff0000"/>
<circle cx="1349.4" cy="467.5" r="17.6" fill="#ff0000"/>
<circle cx="1372.7" cy="529.9" r="17.6" fill="#ff0000"/>
<circle cx="1401.3" cy="600" r="17.6" fill="#ff0000"/>
<circle cx="1429.9" cy="690.3" r="17.6" fill="#ff0000"/>
<circle cx="1454.5" cy="768.2" r="17.6" fill="#ff0000"/>
<circle cx="1486.5" cy="849.2" r="17.6" fill="#ff0000"/>
<circle cx="1511" cy="917.9" r="17.6" fill="#ff0000"/>
<circle cx="1538.8" cy="975.3" r="17.6" fill="#ff0000"/>
<circle cx="1569" cy="1025.5" r="17.6" fill="#ff0000"/>
<circle cx="1590.3" cy="1068.3" r="17.6" fill="#ff0000"/>
<circle cx="1619.4" cy="1100.5" r="17.6" fill="#ff0000"/>
<circle cx="1648.2" cy="1128.6" r="17.6" fill="#ff0000"/>
<circle cx="1673.4" cy="1152.5" r="17.6" fill="#ff0000"/>
<circle cx="1703.2" cy="1167" r="17.6" fill="#ff0000"/>
<circle cx="1729.2" cy="1184.4" r="17.6" fill="#ff0000"/>
<circle cx="1757.3" cy="1198.7" r="17.6" fill="#ff0000"/>
<circle cx="1785.1" cy="1206.5" r="17.6" fill="#ff0000"/>
<circle cx="1812.3" cy="1214.3" r="17.6" fill="#ff0000"/>
<circle cx="1839.6" cy="1222" r="17.6" fill="#ff0000"/>
<circle cx="1866.9" cy="1225.2" r="17.6" fill="#ff0000"/>
<circle cx="1894.2" cy="1227.4" r="17.6" fill="#ff0000"/>
<circle cx="1921.5" cy="1230.9" r="17.6" fill="#ff0000"/>
<circle cx="1948.8" cy="1234.4" r="17.6" fill="#ff0000"/>
<circle cx="1976.1" cy="1237.1" r="17.6" fill="#ff0000"/>
<circle cx="2003.4" cy="1238.1" r="17.6" fill="#ff0000"/>
<circle cx="2030.7" cy="1239.1" r="17.6" fill="#ff0000"/>
<circle cx="2058" cy="1240" r="17.6" fill="#ff0000"/>
<circle cx="2085.3" cy="1240.7" r="17.6" fill="#ff0000"/>
<circle cx="2112.6" cy="1241.2" r="17.6" fill="#ff0000"/>
<circle cx="2139.9" cy="1241.6" r="17.6" fill="#ff0000"/>
<circle cx="2167.2" cy="1241.8" r="17.6" fill="#ff0000"/>
<circle cx="2194.5" cy="1242" r="17.6" fill="#ff0000"/>
</g>
<g clip-path="url(#ca)">
<path d="M283.5 143.7 L286.5 143.9 L289.6 144.1 L292.6 144.3 L295.6 144.5 L298.7 144.7 L301.7 144.9 L304.7 145.1 L307.8 145.3 L310.8 145.5 L313.8 145.6 L316.9 145.8 L319.9 146 L322.9 146.2 L326 146.4 L329 146.6 L332 146.8 L335.1 147 L338.1 147.2 L341.1 147.4 L344.2 147.6 L347.2 147.9 L350.2 148.1 L353.3 148.3 L356.3 148.5 L359.3 148.7 L362.4 148.9 L365.4 149.1 L368.4 149.3 L371.5 149.5 L374.5 149.7 L377.5 149.9 L380.6 150.1 L383.6 150.3 L386.6 150.5 L389.7 150.7 L392.7 150.9 L395.7 151.1 L398.8 151.4 L401.8 151.6 L404.8 151.8 L407.9 152 L410.9 152.2 L413.9 152.4 L417 152.6 L420 152.8 L423 153 L426.1 153.3 L429.1 153.5 L432.1 153.7 L435.2 153.9 L438.2 154.1 L441.2 154.3 L444.3 154.5 L447.3 154.8 L450.3 155 L453.4 155.2 L456.4 155.4 L459.4 155.6 L462.5 155.8 L465.5 156.1 L468.5 156.3 L471.6 156.5 L474.6 156.7 L477.6 156.9 L480.7 157.1 L483.7 157.4 L486.7 157.6 L489.8 157.8 L492.8 158 L495.8 158.3 L498.9 158.5 L501.9 158.7 L504.9 158.9 L508 159.2 L511 159.4 L514 159.6 L517.1 159.8 L520.1 160.1 L523.1 160.3 L526.2 160.5 L529.2 160.8 L532.2 161 L535.3 161.2 L538.3 161.5 L541.3 161.7 L544.4 161.9 L547.4 162.2 L550.4 162.4 L553.5 162.6 L556.5 162.9 L559.5 163.1 L562.6 163.3 L565.6 163.6 L568.6 163.8 L571.7 164 L574.7 164.3 L577.7 164.5 L580.8 164.8 L583.8 165 L586.8 165.2 L589.9 165.5 L592.9 165.7 L595.9 165.9 L599 166.2 L602 166.4 L605 166.6 L608.1 166.9 L611.1 167.1 L614.1 167.4 L617.2 167.6 L620.2 167.8 L623.2 168.1 L626.3 168.3 L629.3 168.5 L632.3 168.8 L635.4 169 L638.4 169.3 L641.4 169.5 L644.5 169.7 L647.5 170 L650.5 170.2 L653.6 170.4 L656.6 170.7 L659.6 170.9 L662.7 171.1 L665.7 171.4 L668.7 171.6 L671.8 171.8 L674.8 172.1 L677.8 172.3 L680.9 172.5 L683.9 172.7 L686.9 173 L690 173.2 L693 173.4 L696 173.7 L699.1 173.9 L702.1 174.1 L705.1 174.4 L708.2 174.6 L711.2 174.8 L714.2 175.1 L717.3 175.3 L720.3 175.5 L723.3 175.8 L726.4 176 L729.4 176.3 L732.4 176.5 L735.5 176.7 L738.5 177 L741.5 177.2 L744.6 177.5 L747.6 177.7 L750.6 178 L753.7 178.2 L756.7 178.5 L759.7 178.7 L762.8 179 L765.8 179.2 L768.8 179.5 L771.9 179.8 L774.9 180 L777.9 180.3 L781 180.6 L784 180.8 L787 181.1 L790.1 181.4 L793.1 181.6 L796.1 181.9 L799.2 182.2 L802.2 182.5 L805.2 182.7 L808.3 183 L811.3 183.3 L814.3 183.6 L817.4 183.9 L820.4 184.1 L823.4 184.4 L826.5 184.7 L829.5 185 L832.5 185.3 L835.6 185.5 L838.6 185.8 L841.6 186.1 L844.7 186.4 L847.7 186.7 L850.7 187 L853.8 187.2 L856.8 187.5 L859.8 187.8 L862.9 188.1 L865.9 188.3 L868.9 188.6 L872 188.9 L875 189.1 L878 189.4 L881.1 189.7 L884.1 190 L887.1 190.3 L890.2 190.6 L893.2 190.9 L896.2 191.3 L899.3 191.6 L902.3 192 L905.3 192.3 L908.4 192.7 L911.4 193.1 L914.4 193.4 L917.5 193.8 L920.5 194.3 L923.5 194.7 L926.6 195.1 L929.6 195.5 L932.6 195.9 L935.7 196.3 L938.7 196.7 L941.7 197.1 L944.8 197.4 L947.8 197.7 L950.8 198 L953.9 198.3 L956.9 198.6 L959.9 199 L963 199.3 L966 199.6 L969 200 L972.1 200.4 L975.1 200.8 L978.1 201.1 L981.2 201.5 L984.2 201.9 L987.2 202.3 L990.3 202.8 L993.3 203.2 L996.3 203.6 L999.4 204 L1002.4 204.5 L1005.4 204.9 L1008.5 205.4 L1011.5 205.9 L1014.5 206.3 L1017.6 206.8 L1020.6 207.2 L1023.6 207.7 L1026.7 208.2 L1029.7 208.6 L1032.7 209.1 L1035.8 209.5 L1038.8 210 L1041.8 210.5 L1044.9 211 L1047.9 211.4 L1050.9 211.9 L1054 212.4 L1057 212.8 L1060 213.3 L1063.1 213.8 L1066.1 214.2 L1069.1 214.7 L1072.2 215.2 L1075.2 215.7 L1078.2 216.2 L1081.3 216.7 L1084.3 217.1 L1087.3 217.6 L1090.4 218.1 L1093.4 218.6 L1096.4 219.2 L1099.5 219.8 L1102.5 220.4 L1105.7 221.1 L1108.8 222 L1112 222.9 L1115.2 223.8 L1118.3 224.8 L1121.5 225.8 L1124.6 226.8 L1127.8 227.7 L1130.9 228.6 L1134.1 229.5 L1137.2 230.4 L1140.4 231.3 L1143.5 232.1 L1146.7 233.1 L1149.8 234 L1153 235 L1156.1 236 L1159.3 237.1 L1162.4 238.2 L1165.6 239.4 L1168.8 240.6 L1171.9 241.9 L1175.1 243.2 L1178.2 244.5 L1181.4 245.8 L1184.7 247.2 L1188 248.6 L1191.3 250 L1194.6 251.4 L1197.8 252.9 L1201.1 254.4 L1204.4 255.9 L1207.7 257.5 L1210.8 259 L1213.9 260.5 L1217 262.1 L1220.1 263.6 L1223.2 265.2 L1226.2 266.9 L1229.3 268.5 L1232.4 270.3 L1235.5 272.1 L1238.6 274 L1241.7 276 L1244.8 278.1 L1247.8 280.4 L1250.9 282.8 L1254 285.3 L1257.1 287.9 L1260.1 290.6 L1263.2 293.2 L1266.2 295.8 L1269.2 298.4 L1272.3 301 L1275.3 303.7 L1278.3 306.4 L1281.3 309.1 L1284.3 312 L1287.4 314.9 L1290.4 318 L1293.4 321.1 L1296.6 324.6 L1299.8 328.2 L1303 332 L1306.2 336 L1309.4 340 L1312.6 344.2 L1315.8 348.5 L1319 352.8 L1322.1 357.2 L1325.3 361.7 L1328.4 366.4 L1331.5 371.2 L1334.7 376.1 L1337.8 381 L1341 385.9 L1344.1 390.9 L1347.3 395.9 L1350.5 400.9 L1353.7 405.8 L1356.9 410.8 L1360.1 415.9 L1363.3 421 L1366.5 426.4 L1369.7 431.8 L1372.9 437.5 L1376.1 443.5 L1379.4 450.1 L1382.8 457.1 L1386.1 464.5 L1389.5 472.1 L1392.8 479.9 L1396.2 487.7 L1399.5 495.5 L1402.6 502.8 L1405.8 510.3 L1408.9 517.9 L1412 525.6 L1415.1 533.2 L1418.2 540.9 L1421.4 548.5 L1424.5 555.9 L1427.6 563.1 L1430.7 570 L1433.7 576.9 L1436.8 583.6 L1439.9 590.4 L1443 597.2 L1446.1 604 L1449.2 611.1 L1452.2 618.4 L1455.3 625.9 L1458.4 633.8 L1461.9 643.4 L1465.3 653.8 L1468.8 664.7 L1472.3 675.5 L1475.7 685.9 L1479.2 695.6 L1482.3 703.6 L1485.4 711.2 L1488.6 718.5 L1491.7 725.5 L1494.8 732.5 L1497.9 739.3 L1501 746.3 L1504.2 753.4 L1507.3 760.7 L1510.4 768.3 L1513.7 777 L1517.1 786.1 L1520.4 795.5 L1523.8 804.9 L1527.1 814.1 L1530.5 823 L1533.8 831.2 L1536.8 838.2 L1539.9 844.8 L1542.9 851.1 L1545.9 857.2 L1549 863.2 L1552 869.1 L1555.1 875.1 L1558.1 881.1 L1561.1 887.2 L1564.2 893.6 L1567.2 900.3 L1570.2 907.4 L1573.3 914.9 L1576.3 922.6 L1579.3 930.4 L1582.3 938 L1585.4 945.3 L1588.4 952.1 L1591.7 959.1 L1595 965.8 L1598.4 972.3 L1601.7 978.6 L1605 984.7 L1608.3 990.8 L1611.7 996.7 L1615 1002.6 L1618.3 1008.4 L1621.5 1014.1 L1624.8 1019.7 L1628 1025.2 L1631.2 1030.7 L1634.5 1036.1 L1637.7 1041.4 L1640.9 1046.6 L1644.2 1051.6 L1647.4 1056.5 L1650.5 1061.1 L1653.6 1065.6 L1656.7 1070 L1659.8 1074.3 L1662.8 1078.5 L1665.9 1082.5 L1669 1086.5 L1672.1 1090.3 L1675.4 1094.2 L1678.7 1098 L1682.1 1101.7 L1685.4 1105.3 L1688.7 1108.8 L1692 1112.2 L1695.4 1115.7 L1698.7 1119.2 L1702 1122.7 L1705.3 1126.3 L1708.7 1130 L1712 1133.7 L1715.3 1137.3 L1718.6 1140.9 L1722 1144.3 L1725.3 1147.4 L1728.6 1150.4 L1731.9 1153.2 L1735.3 1156 L1738.6 1158.7 L1741.9 1161.3 L1745.2 1163.8 L1748.6 1166.2 L1751.9 1168.6 L1755.2 1170.8 L1758.5 1172.9 L1761.8 1174.9 L1765.2 1176.8 L1768.5 1178.7 L1771.8 1180.5 L1775.1 1182.3 L1778.5 1184 L1781.8 1185.8 L1785.1 1187.7 L1788.1 1189.4 L1791.1 1191.2 L1794.2 1192.9 L1797.2 1194.7 L1800.2 1196.4 L1803.2 1198.1 L1806.3 1199.8 L1809.3 1201.5 L1812.3 1203.2 L1815.3 1204.9 L1818.4 1206.7 L1821.4 1208.6 L1824.4 1210.5 L1827.5 1212.2 L1830.5 1213.9 L1833.5 1215.4 L1836.6 1216.6 L1839.6 1217.5 L1842.6 1218.2 L1845.7 1218.7 L1848.7 1219.2 L1851.7 1219.5 L1854.8 1219.9 L1857.8 1220.3 L1860.8 1220.7 L1863.9 1221.3 L1866.9 1221.9 L1869.9 1222.9 L1873 1224.2 L1876 1225.7 L1879 1227.4 L1882.1 1229.2 L1885.1 1231 L1888.1 1232.7 L1891.2 1234.2 L1894.2 1235.5 L1897.2 1236.5 L1900.3 1237.6 L1903.3 1238.5 L1906.3 1239.5 L1909.4 1240.3 L1912.4 1241.2 L1915.4 1241.9 L1918.5 1242.6 L1921.5 1243.1 L1924.5 1243.6 L1927.6 1244 L1930.6 1244.4 L1933.6 1244.7 L1936.7 1245.1 L1939.7 1245.4 L1942.7 1245.8 L1945.8 1246.2 L1948.8 1246.6 L1951.8 1247.3 L1954.9 1248 L1957.9 1248.9 L1960.9 1249.8 L1964 1250.7 L1967 1251.6 L1970 1252.5 L1973.1 1253.3 L1976.1 1253.9 L1979.1 1254.4 L1982.2 1254.9 L1985.2 1255.3 L1988.2 1255.8 L1991.3 1256.2 L1994.3 1256.5 L1997.3 1256.9 L2000.4 1257.2 L2003.4 1257.5 L2006.4 1257.7 L2009.5 1257.9 L2012.5 1258.1 L2015.5 1258.2 L2018.6 1258.4 L2021.6 1258.5 L2024.6 1258.7 L2027.7 1258.9 L2030.7 1259.1 L2033.7 1259.2 L2036.8 1259.4 L2039.8 1259.6 L2042.8 1259.8 L2045.9 1260 L2048.9 1260.2 L2051.9 1260.4 L2055 1260.7 L2058 1261 L2061 1261.3 L2064.1 1261.6 L2067.1 1262 L2070.1 1262.4 L2073.2 1262.8 L2076.2 1263.2 L2079.2 1263.7 L2082.3 1264.1 L2085.3 1264.5 L2088.3 1264.9 L2091.4 1265.3 L2094.4 1265.7 L2097.4 1266.1 L2100.5 1266.5 L2103.5 1266.9 L2106.5 1267.2 L2109.6 1267.5 L2112.6 1267.8 L2115.6 1268 L2118.7 1268.2 L2121.7 1268.4 L2124.7 1268.6 L2127.8 1268.8 L2130.8 1269 L2133.8 1269.1 L2136.9 1269.2 L2139.9 1269.3 L2142.9 1269.4 L2146 1269.5 L2149 1269.5 L2152 1269.6 L2155.1 1269.6 L2158.1 1269.7 L2161.1 1269.7 L2164.2 1269.7 L2167.2 1269.8 L2170.2 1269.8 L2173.3 1269.8 L2176.3 1269.9 L2179.3 1269.9 L2182.4 1269.9 L2185.4 1269.9 L2188.4 1270 L2191.5 1270 L2194.5 1270" fill="none" stroke="#0000ff" stroke-width="10.5" stroke-linejoin="round" stroke-linecap="round"/>
<path d="M283.5 119L304.9 156.1L262.1 156.1Z" fill="#0000ff"/>
<path d="M310.8 120.8L332.2 157.9L289.4 157.9Z" fill="#0000ff"/>
<path d="M338.1 122.5L359.5 159.6L316.7 159.6Z" fill="#0000ff"/>
<path d="M365.4 124.4L386.8 161.5L344 161.5Z" fill="#0000ff"/>
<path d="M392.7 126.2L414.1 163.3L371.3 163.3Z" fill="#0000ff"/>
<path d="M420 128.1L441.4 165.2L398.6 165.2Z" fill="#0000ff"/>
<path d="M447.3 130.1L468.7 167.2L425.9 167.2Z" fill="#0000ff"/>
<path d="M474.6 132L496 169.1L453.2 169.1Z" fill="#0000ff"/>
<path d="M501.9 134L523.3 171.1L480.5 171.1Z" fill="#0000ff"/>
<path d="M529.2 136.1L550.6 173.2L507.8 173.2Z" fill="#0000ff"/>
<path d="M556.5 138.2L577.9 175.3L535.1 175.3Z" fill="#0000ff"/>
<path d="M583.8 140.3L605.2 177.4L562.4 177.4Z" fill="#0000ff"/>
<path d="M611.1 142.4L632.5 179.5L589.7 179.5Z" fill="#0000ff"/>
<path d="M638.4 144.6L659.8 181.7L617 181.7Z" fill="#0000ff"/>
<path d="M665.7 146.7L687.1 183.8L644.3 183.8Z" fill="#0000ff"/>
<path d="M693 148.7L714.4 185.8L671.6 185.8Z" fill="#0000ff"/>
<path d="M720.3 150.8L741.7 187.9L698.9 187.9Z" fill="#0000ff"/>
<path d="M747.6 153L769 190.1L726.2 190.1Z" fill="#0000ff"/>
<path d="M774.9 155.3L796.3 192.4L753.5 192.4Z" fill="#0000ff"/>
<path d="M802.2 157.8L823.6 194.9L780.8 194.9Z" fill="#0000ff"/>
<path d="M829.5 160.3L850.9 197.4L808.1 197.4Z" fill="#0000ff"/>
<path d="M856.8 162.8L878.2 199.9L835.4 199.9Z" fill="#0000ff"/>
<path d="M884.1 165.3L905.5 202.4L862.7 202.4Z" fill="#0000ff"/>
<path d="M911.4 168.4L932.8 205.5L890 205.5Z" fill="#0000ff"/>
<path d="M938.7 172L960.1 209.1L917.3 209.1Z" fill="#0000ff"/>
<path d="M966 174.9L987.4 212L944.6 212Z" fill="#0000ff"/>
<path d="M993.3 178.5L1014.7 215.6L971.9 215.6Z" fill="#0000ff"/>
<path d="M1020.6 182.5L1042 219.6L999.2 219.6Z" fill="#0000ff"/>
<path d="M1047.9 186.7L1069.3 223.8L1026.5 223.8Z" fill="#0000ff"/>
<path d="M1075.2 191L1096.6 228.1L1053.8 228.1Z" fill="#0000ff"/>
<path d="M1102.5 195.7L1123.9 232.8L1081.1 232.8Z" fill="#0000ff"/>
<path d="M1127.8 203L1149.2 240.1L1106.4 240.1Z" fill="#0000ff"/>
<path d="M1156.1 211.3L1177.5 248.4L1134.7 248.4Z" fill="#0000ff"/>
<path d="M1181.4 221.1L1202.8 258.2L1160 258.2Z" fill="#0000ff"/>
<path d="M1207.7 232.8L1229.1 269.9L1186.3 269.9Z" fill="#0000ff"/>
<path d="M1241.7 251.3L1263.1 288.4L1220.3 288.4Z" fill="#0000ff"/>
<path d="M1263.2 268.5L1284.6 305.6L1241.8 305.6Z" fill="#0000ff"/>
<path d="M1293.4 296.4L1314.8 333.5L1272 333.5Z" fill="#0000ff"/>
<path d="M1319 328.1L1340.4 365.2L1297.6 365.2Z" fill="#0000ff"/>
<path d="M1344.1 366.2L1365.5 403.3L1322.7 403.3Z" fill="#0000ff"/>
<path d="M1376.1 418.8L1397.5 455.9L1354.7 455.9Z" fill="#0000ff"/>
<path d="M1399.5 470.8L1420.9 507.9L1378.1 507.9Z" fill="#0000ff"/>
<path d="M1424.5 531.2L1445.9 568.3L1403.1 568.3Z" fill="#0000ff"/>
<path d="M1458.4 609.1L1479.8 646.2L1437 646.2Z" fill="#0000ff"/>
<path d="M1479.2 670.9L1500.6 708L1457.8 708Z" fill="#0000ff"/>
<path d="M1510.4 743.6L1531.8 780.7L1489 780.7Z" fill="#0000ff"/>
<path d="M1533.8 806.5L1555.2 843.6L1512.4 843.6Z" fill="#0000ff"/>
<path d="M1567.2 875.6L1588.6 912.7L1545.8 912.7Z" fill="#0000ff"/>
<path d="M1588.4 927.4L1609.8 964.5L1567 964.5Z" fill="#0000ff"/>
<path d="M1618.3 983.7L1639.7 1020.8L1596.9 1020.8Z" fill="#0000ff"/>
<path d="M1647.4 1031.8L1668.8 1068.9L1626 1068.9Z" fill="#0000ff"/>
<path d="M1672.1 1065.6L1693.5 1102.7L1650.7 1102.7Z" fill="#0000ff"/>
<path d="M1702 1098L1723.4 1135.1L1680.6 1135.1Z" fill="#0000ff"/>
<path d="M1725.3 1122.7L1746.7 1159.8L1703.9 1159.8Z" fill="#0000ff"/>
<path d="M1755.2 1146.1L1776.6 1183.2L1733.8 1183.2Z" fill="#0000ff"/>
<path d="M1785.1 1163L1806.5 1200.1L1763.7 1200.1Z" fill="#0000ff"/>
<path d="M1812.3 1178.5L1833.7 1215.6L1790.9 1215.6Z" fill="#0000ff"/>
<path d="M1839.6 1192.8L1861 1229.9L1818.2 1229.9Z" fill="#0000ff"/>
<path d="M1866.9 1197.2L1888.3 1234.3L1845.5 1234.3Z" fill="#0000ff"/>
<path d="M1894.2 1210.8L1915.6 1247.9L1872.8 1247.9Z" fill="#0000ff"/>
<path d="M1921.5 1218.4L1942.9 1255.5L1900.1 1255.5Z" fill="#0000ff"/>
<path d="M1948.8 1221.9L1970.2 1259L1927.4 1259Z" fill="#0000ff"/>
<path d="M1976.1 1229.2L1997.5 1266.3L1954.7 1266.3Z" fill="#0000ff"/>
<path d="M2003.4 1232.8L2024.8 1269.9L1982 1269.9Z" fill="#0000ff"/>
<path d="M2030.7 1234.4L2052.1 1271.5L2009.3 1271.5Z" fill="#0000ff"/>
<path d="M2058 1236.3L2079.4 1273.4L2036.6 1273.4Z" fill="#0000ff"/>
<path d="M2085.3 1239.8L2106.7 1276.9L2063.9 1276.9Z" fill="#0000ff"/>
<path d="M2112.6 1243.1L2134 1280.2L2091.2 1280.2Z" fill="#0000ff"/>
<path d="M2139.9 1244.6L2161.3 1281.7L2118.5 1281.7Z" fill="#0000ff"/>
<path d="M2167.2 1245.1L2188.6 1282.2L2145.8 1282.2Z" fill="#0000ff"/>
<path d="M2194.5 1245.3L2215.9 1282.4L2173.1 1282.4Z" fill="#0000ff"/>
</g>
<g clip-path="url(#ca)">
<path d="M278.2 129.3 L281.2 129.4 L284.3 129.4 L287.3 129.5 L290.3 129.6 L293.4 129.6 L296.4 129.7 L299.4 129.8 L302.5 129.9 L305.5 130 L308.5 130.1 L311.6 130.2 L314.6 130.3 L317.6 130.4 L320.7 130.5 L323.7 130.6 L326.7 130.8 L329.8 130.9 L332.8 131 L335.8 131.1 L338.9 131.2 L341.9 131.3 L344.9 131.5 L348 131.6 L351 131.7 L354 131.8 L357.1 131.9 L360.1 132 L363.1 132.2 L366.2 132.3 L369.2 132.4 L372.2 132.5 L375.3 132.6 L378.3 132.7 L381.3 132.8 L384.4 133 L387.4 133.1 L390.4 133.2 L393.5 133.3 L396.5 133.5 L399.5 133.6 L402.6 133.7 L405.6 133.9 L408.6 134 L411.7 134.1 L414.7 134.3 L417.7 134.4 L420.8 134.5 L423.8 134.7 L426.8 134.8 L429.9 135 L432.9 135.1 L435.9 135.2 L439 135.4 L442 135.5 L445 135.7 L448.1 135.8 L451.1 136 L454.1 136.1 L457.2 136.2 L460.2 136.4 L463.2 136.5 L466.3 136.7 L469.3 136.8 L472.3 137 L475.4 137.2 L478.4 137.3 L481.4 137.5 L484.5 137.7 L487.5 137.8 L490.5 138 L493.6 138.2 L496.6 138.3 L499.6 138.5 L502.7 138.7 L505.7 138.9 L508.7 139 L511.8 139.2 L514.8 139.4 L517.8 139.6 L520.9 139.8 L523.9 139.9 L526.9 140.1 L530 140.3 L533 140.5 L536 140.7 L539.1 140.9 L542.1 141.1 L545.1 141.3 L548.2 141.4 L551.2 141.6 L554.2 141.8 L557.3 142 L560.3 142.2 L563.3 142.4 L566.4 142.6 L569.4 142.8 L572.4 143 L575.5 143.2 L578.5 143.4 L581.5 143.6 L584.6 143.8 L587.6 144 L590.6 144.2 L593.7 144.5 L596.7 144.7 L599.7 144.9 L602.8 145.1 L605.8 145.3 L608.8 145.5 L611.9 145.7 L614.9 146 L617.9 146.2 L621 146.4 L624 146.6 L627 146.8 L630.1 147.1 L633.1 147.3 L636.1 147.5 L639.2 147.7 L642.2 148 L645.2 148.2 L648.3 148.4 L651.3 148.7 L654.3 148.9 L657.4 149.1 L660.4 149.4 L663.4 149.6 L666.5 149.9 L669.5 150.1 L672.5 150.4 L675.6 150.7 L678.6 150.9 L681.6 151.2 L684.7 151.5 L687.7 151.7 L690.7 152 L693.8 152.3 L696.8 152.5 L699.8 152.8 L702.9 153.1 L705.9 153.4 L708.9 153.7 L712 153.9 L715 154.2 L718 154.5 L721.1 154.8 L724.1 155.1 L727.1 155.4 L730.2 155.6 L733.2 155.9 L736.2 156.2 L739.3 156.5 L742.3 156.8 L745.3 157 L748.4 157.3 L751.4 157.6 L754.4 157.9 L757.5 158.1 L760.5 158.4 L763.5 158.7 L766.6 158.9 L769.6 159.2 L772.6 159.5 L775.7 159.7 L778.7 160 L781.7 160.2 L784.8 160.5 L787.8 160.7 L790.8 160.9 L793.9 161.2 L796.9 161.4 L799.9 161.7 L803 161.9 L806 162.2 L809 162.4 L812.1 162.7 L815.1 163 L818.1 163.2 L821.2 163.5 L824.2 163.7 L827.2 164 L830.3 164.3 L833.3 164.5 L836.3 164.8 L839.4 165.1 L842.4 165.4 L845.4 165.7 L848.5 166 L851.5 166.3 L854.5 166.6 L857.6 167 L860.6 167.4 L863.6 167.8 L866.7 168.1 L869.7 168.5 L872.7 168.9 L875.8 169.3 L878.8 169.7 L881.8 170 L884.9 170.4 L887.9 170.7 L890.9 171.1 L894 171.4 L897 171.8 L900 172.1 L903.1 172.5 L906.1 172.8 L909.1 173.1 L912.2 173.5 L915.2 173.8 L918.2 174.1 L921.3 174.4 L924.3 174.8 L927.3 175.1 L930.4 175.4 L933.4 175.7 L936.4 176.1 L939.5 176.4 L942.5 176.7 L945.5 177.1 L948.6 177.4 L951.6 177.7 L954.6 178.1 L957.7 178.4 L960.7 178.8 L963.7 179.2 L966.8 179.6 L969.8 180 L972.8 180.4 L975.9 180.9 L978.9 181.3 L981.9 181.7 L985 182.1 L988 182.5 L991 182.9 L994.1 183.3 L997.1 183.6 L1000.1 183.9 L1003.2 184.3 L1006.2 184.6 L1009.2 185 L1012.3 185.3 L1015.3 185.7 L1018.3 186.1 L1021.4 186.5 L1024.4 186.9 L1027.4 187.3 L1030.5 187.7 L1033.5 188.1 L1036.5 188.5 L1039.6 188.9 L1042.6 189.3 L1045.6 189.8 L1048.7 190.2 L1051.7 190.6 L1054.7 191 L1057.8 191.5 L1060.8 191.9 L1063.8 192.4 L1066.9 192.9 L1069.9 193.4 L1072.9 194 L1076 194.6 L1079 195.2 L1082 195.8 L1085.1 196.5 L1088.1 197.1 L1091.1 197.8 L1094.2 198.4 L1097.2 199 L1100.3 199.6 L1103.5 200.2 L1106.6 200.7 L1109.8 201.3 L1112.9 201.8 L1116.1 202.4 L1119.2 203 L1122.4 203.6 L1125.5 204.2 L1128.8 204.9 L1132.1 205.6 L1135.4 206.3 L1138.7 207 L1141.9 207.7 L1145.2 208.5 L1148.5 209.3 L1151.8 210.1 L1155 210.9 L1158.3 211.8 L1161.5 212.7 L1164.8 213.6 L1168 214.6 L1171.3 215.5 L1174.5 216.5 L1177.8 217.5 L1181 218.5 L1184 219.5 L1187 220.4 L1190.1 221.4 L1193.1 222.4 L1196.1 223.4 L1199.1 224.5 L1202.2 225.5 L1205.2 226.7 L1208.2 227.8 L1211.4 229 L1214.6 230.3 L1217.8 231.6 L1221 232.9 L1224.3 234.3 L1227.5 235.7 L1230.7 237.3 L1233.9 238.8 L1237.1 240.5 L1240.3 242.3 L1243.4 244.3 L1246.6 246.4 L1249.8 248.6 L1253 250.8 L1256.1 253 L1259.3 255.2 L1262.3 257.2 L1265.3 259.1 L1268.4 261 L1271.4 262.9 L1274.4 264.8 L1277.4 266.7 L1280.4 268.7 L1283.4 270.8 L1286.5 273 L1289.5 275.3 L1292.5 277.8 L1295.8 280.8 L1299.1 284.1 L1302.4 287.7 L1305.6 291.4 L1308.9 295.2 L1312.2 299.1 L1315.5 302.9 L1318.8 306.7 L1322.1 310.4 L1325.5 314.2 L1328.8 318 L1332.1 321.9 L1335.4 325.9 L1338.8 330.1 L1342.1 334.5 L1345.4 339.1 L1348.7 343.9 L1351.9 349 L1355.2 354.3 L1358.4 359.9 L1361.7 365.7 L1364.9 371.6 L1368.2 377.7 L1371.4 383.8 L1374.7 390.3 L1378.1 397 L1381.4 403.8 L1384.8 410.9 L1388.1 418.1 L1391.4 425.5 L1394.8 432.9 L1398.1 440.4 L1401.3 447.6 L1404.5 454.8 L1407.6 462.2 L1410.8 469.7 L1414 477.3 L1417.2 485 L1420.3 492.9 L1423.5 500.9 L1426.7 509.2 L1430 518.2 L1433.3 527.6 L1436.7 537.2 L1440 547.1 L1443.3 557.1 L1446.7 567 L1450 576.8 L1453.3 586.3 L1456.6 595.6 L1459.9 604.9 L1463.2 614.1 L1466.5 623.2 L1469.9 632.3 L1473.2 641.3 L1476.5 650.4 L1479.8 659.3 L1483.1 668.3 L1486.4 677.1 L1489.7 685.8 L1493 694.4 L1496.2 703 L1499.5 711.6 L1502.8 720.3 L1506.1 729.2 L1509.4 738.2 L1512.6 747.3 L1515.8 756.7 L1519 766.2 L1522.2 775.9 L1525.5 785.5 L1528.7 794.9 L1531.9 804.1 L1535.1 813 L1538.1 821.1 L1541.1 829 L1544.2 836.8 L1547.2 844.5 L1550.2 852 L1553.2 859.4 L1556.3 866.7 L1559.3 873.9 L1562.3 881 L1565.3 887.9 L1568.3 894.6 L1571.3 901.1 L1574.3 907.5 L1577.3 913.9 L1580.4 920.2 L1583.4 926.5 L1586.4 932.9 L1589.4 939.4 L1592.4 946.1 L1595.7 953.8 L1599 961.8 L1602.3 970 L1605.6 978.1 L1608.9 985.9 L1612.2 993.2 L1615.5 999.6 L1618.6 1005 L1621.6 1010 L1624.7 1014.8 L1627.7 1019.4 L1630.8 1023.7 L1633.9 1028 L1636.9 1032.1 L1640 1036.2 L1643 1040.2 L1646.1 1044.3 L1649.2 1048.5 L1652.4 1052.6 L1655.5 1056.6 L1658.6 1060.5 L1661.8 1064.4 L1664.9 1068.1 L1668 1071.8 L1671.2 1075.5 L1674.3 1079.1 L1677.5 1082.7 L1680.6 1086.2 L1683.7 1089.6 L1686.9 1092.8 L1690 1096 L1693.1 1099.1 L1696.3 1102 L1699.4 1104.9 L1702.6 1107.8 L1705.7 1110.6 L1708.8 1113.3 L1712 1116 L1715.1 1118.7 L1718.2 1121.3 L1721.4 1124 L1724.5 1126.6 L1727.7 1129.2 L1730.8 1131.8 L1734 1134.5 L1737.3 1137.3 L1740.5 1140 L1743.7 1142.6 L1746.9 1145.2 L1750.2 1147.7 L1753.4 1150 L1756.6 1152.2 L1759.7 1154.3 L1762.9 1156.3 L1766.1 1158.3 L1769.2 1160.2 L1772.4 1162 L1775.6 1163.7 L1778.7 1165.4 L1781.9 1166.9 L1785 1168.3 L1788 1169.6 L1791.1 1170.8 L1794.2 1171.9 L1797.2 1173 L1800.3 1174.1 L1803.4 1175.2 L1806.5 1176.3 L1809.5 1177.4 L1812.6 1178.6 L1815.9 1179.9 L1819.2 1181.4 L1822.5 1182.8 L1825.8 1184.3 L1829 1185.8 L1832.3 1187.1 L1835.6 1188.4 L1838.9 1189.4 L1842.2 1190.3 L1845.2 1190.9 L1848.3 1191.5 L1851.3 1192 L1854.3 1192.4 L1857.4 1192.9 L1860.4 1193.3 L1863.4 1193.7 L1866.5 1194.1 L1869.5 1194.6 L1872.5 1195.1 L1875.6 1195.6 L1878.6 1196.1 L1881.6 1196.5 L1884.7 1197 L1887.7 1197.5 L1890.7 1198 L1893.8 1198.6 L1896.8 1199.1 L1899.8 1199.6 L1902.9 1200.1 L1905.9 1200.7 L1908.9 1201.2 L1912 1201.8 L1915 1202.3 L1918 1202.9 L1921.1 1203.4 L1924.1 1203.9 L1927.1 1204.3 L1930.2 1204.8 L1933.2 1205.2 L1936.2 1205.7 L1939.3 1206.1 L1942.3 1206.5 L1945.3 1206.9 L1948.4 1207.3 L1951.4 1207.8 L1954.4 1208.2 L1957.5 1208.7 L1960.5 1209.1 L1963.5 1209.6 L1966.6 1210 L1969.6 1210.5 L1972.6 1210.9 L1975.7 1211.4 L1978.7 1211.8 L1981.7 1212.2 L1984.8 1212.5 L1987.8 1212.9 L1990.8 1213.3 L1993.9 1213.7 L1996.9 1214 L1999.9 1214.3 L2003 1214.7 L2006 1215 L2009 1215.3 L2012.1 1215.6 L2015.1 1215.9 L2018.1 1216.1 L2021.2 1216.4 L2024.2 1216.7 L2027.2 1216.9 L2030.3 1217.1 L2033.3 1217.3 L2036.3 1217.5 L2039.4 1217.7 L2042.4 1217.9 L2045.4 1218 L2048.5 1218.2 L2051.5 1218.3 L2054.5 1218.5 L2057.6 1218.6 L2060.6 1218.7 L2063.6 1218.8 L2066.7 1218.8 L2069.7 1218.9 L2072.7 1218.9 L2075.8 1219 L2078.8 1219 L2081.8 1219.1 L2084.9 1219.1 L2087.9 1219.2 L2090.9 1219.3 L2094 1219.4 L2097 1219.5 L2100 1219.6 L2103.1 1219.7 L2106.1 1219.8 L2109.1 1219.9 L2112.2 1219.9 L2115.2 1220 L2118.2 1220 L2121.3 1220.1 L2124.3 1220.1 L2127.3 1220.1 L2130.4 1220.1 L2133.4 1220.2 L2136.4 1220.2 L2139.5 1220.2 L2142.5 1220.2 L2145.5 1220.2 L2148.6 1220.2 L2151.6 1220.2 L2154.6 1220.2 L2157.7 1220.2 L2160.7 1220.2 L2163.7 1220.2 L2166.8 1220.2 L2169.8 1220.2 L2172.8 1220.2 L2175.9 1220.2 L2178.9 1220.1 L2181.9 1220.1 L2185 1220.1 L2188 1220.1 L2191 1220.1 L2194.1 1220.1 L2197.1 1220" fill="none" stroke="#008080" stroke-width="10.5" stroke-linejoin="round" stroke-linecap="round"/>
<path d="M278.2 154L299.6 116.9L256.8 116.9Z" fill="#008080"/>
<path d="M305.5 154.7L326.9 117.6L284.1 117.6Z" fill="#008080"/>
<path d="M332.8 155.7L354.2 118.6L311.4 118.6Z" fill="#008080"/>
<path d="M360.1 156.7L381.5 119.6L338.7 119.6Z" fill="#008080"/>
<path d="M387.4 157.8L408.8 120.7L366 120.7Z" fill="#008080"/>
<path d="M414.7 159L436.1 121.9L393.3 121.9Z" fill="#008080"/>
<path d="M442 160.2L463.4 123.1L420.6 123.1Z" fill="#008080"/>
<path d="M469.3 161.5L490.7 124.4L447.9 124.4Z" fill="#008080"/>
<path d="M496.6 163L518 125.9L475.2 125.9Z" fill="#008080"/>
<path d="M523.9 164.6L545.3 127.5L502.5 127.5Z" fill="#008080"/>
<path d="M551.2 166.3L572.6 129.2L529.8 129.2Z" fill="#008080"/>
<path d="M578.5 168.1L599.9 131L557.1 131Z" fill="#008080"/>
<path d="M605.8 170L627.2 132.9L584.4 132.9Z" fill="#008080"/>
<path d="M633.1 172L654.5 134.9L611.7 134.9Z" fill="#008080"/>
<path d="M660.4 174.1L681.8 137L639 137Z" fill="#008080"/>
<path d="M687.7 176.4L709.1 139.3L666.3 139.3Z" fill="#008080"/>
<path d="M715 178.9L736.4 141.8L693.6 141.8Z" fill="#008080"/>
<path d="M742.3 181.5L763.7 144.4L720.9 144.4Z" fill="#008080"/>
<path d="M769.6 183.9L791 146.8L748.2 146.8Z" fill="#008080"/>
<path d="M796.9 186.1L818.3 149L775.5 149Z" fill="#008080"/>
<path d="M824.2 188.4L845.6 151.3L802.8 151.3Z" fill="#008080"/>
<path d="M851.5 191L872.9 153.9L830.1 153.9Z" fill="#008080"/>
<path d="M878.8 194.4L900.2 157.3L857.4 157.3Z" fill="#008080"/>
<path d="M906.1 197.5L927.5 160.4L884.7 160.4Z" fill="#008080"/>
<path d="M933.4 200.4L954.8 163.3L912 163.3Z" fill="#008080"/>
<path d="M960.7 203.5L982.1 166.4L939.3 166.4Z" fill="#008080"/>
<path d="M988 207.2L1009.4 170.1L966.6 170.1Z" fill="#008080"/>
<path d="M1015.3 210.4L1036.7 173.3L993.9 173.3Z" fill="#008080"/>
<path d="M1042.6 214L1064 176.9L1021.2 176.9Z" fill="#008080"/>
<path d="M1069.9 218.1L1091.3 181L1048.5 181Z" fill="#008080"/>
<path d="M1097.2 223.7L1118.6 186.6L1075.8 186.6Z" fill="#008080"/>
<path d="M1125.5 228.9L1146.9 191.8L1104.1 191.8Z" fill="#008080"/>
<path d="M1151.8 234.8L1173.2 197.7L1130.4 197.7Z" fill="#008080"/>
<path d="M1181 243.2L1202.4 206.1L1159.6 206.1Z" fill="#008080"/>
<path d="M1208.2 252.5L1229.6 215.4L1186.8 215.4Z" fill="#008080"/>
<path d="M1237.1 265.2L1258.5 228.1L1215.7 228.1Z" fill="#008080"/>
<path d="M1259.3 279.9L1280.7 242.8L1237.9 242.8Z" fill="#008080"/>
<path d="M1292.5 302.5L1313.9 265.4L1271.1 265.4Z" fill="#008080"/>
<path d="M1315.5 327.6L1336.9 290.5L1294.1 290.5Z" fill="#008080"/>
<path d="M1345.4 363.8L1366.8 326.7L1324 326.7Z" fill="#008080"/>
<path d="M1371.4 408.5L1392.8 371.4L1350 371.4Z" fill="#008080"/>
<path d="M1398.1 465.1L1419.5 428L1376.7 428Z" fill="#008080"/>
<path d="M1426.7 533.9L1448.1 496.8L1405.3 496.8Z" fill="#008080"/>
<path d="M1453.3 611L1474.7 573.9L1431.9 573.9Z" fill="#008080"/>
<path d="M1483.1 693L1504.5 655.9L1461.7 655.9Z" fill="#008080"/>
<path d="M1509.4 762.9L1530.8 725.8L1488 725.8Z" fill="#008080"/>
<path d="M1535.1 837.7L1556.5 800.6L1513.7 800.6Z" fill="#008080"/>
<path d="M1562.3 905.7L1583.7 868.6L1540.9 868.6Z" fill="#008080"/>
<path d="M1592.4 970.8L1613.8 933.7L1571 933.7Z" fill="#008080"/>
<path d="M1615.5 1024.3L1636.9 987.2L1594.1 987.2Z" fill="#008080"/>
<path d="M1646.1 1069L1667.5 1031.9L1624.7 1031.9Z" fill="#008080"/>
<path d="M1668 1096.5L1689.5 1059.4L1646.6 1059.4Z" fill="#008080"/>
<path d="M1690 1120.7L1711.4 1083.6L1668.6 1083.6Z" fill="#008080"/>
<path d="M1730.8 1156.5L1752.2 1119.4L1709.4 1119.4Z" fill="#008080"/>
<path d="M1753.4 1174.7L1774.8 1137.6L1732 1137.6Z" fill="#008080"/>
<path d="M1781.9 1191.6L1803.3 1154.5L1760.5 1154.5Z" fill="#008080"/>
<path d="M1812.6 1203.3L1834 1166.2L1791.2 1166.2Z" fill="#008080"/>
<path d="M1842.2 1215L1863.6 1177.9L1820.8 1177.9Z" fill="#008080"/>
<path d="M1869.5 1219.3L1890.9 1182.2L1848.1 1182.2Z" fill="#008080"/>
<path d="M1896.8 1223.8L1918.2 1186.7L1875.4 1186.7Z" fill="#008080"/>
<path d="M1924.1 1228.6L1945.5 1191.5L1902.7 1191.5Z" fill="#008080"/>
<path d="M1951.4 1232.5L1972.8 1195.4L1930 1195.4Z" fill="#008080"/>
<path d="M1978.7 1236.5L2000.1 1199.4L1957.3 1199.4Z" fill="#008080"/>
<path d="M2006 1239.7L2027.4 1202.6L1984.6 1202.6Z" fill="#008080"/>
<path d="M2033.3 1242L2054.7 1204.9L2011.9 1204.9Z" fill="#008080"/>
<path d="M2060.6 1243.4L2082 1206.3L2039.2 1206.3Z" fill="#008080"/>
<path d="M2087.9 1243.9L2109.3 1206.8L2066.5 1206.8Z" fill="#008080"/>
<path d="M2115.2 1244.7L2136.6 1207.6L2093.8 1207.6Z" fill="#008080"/>
<path d="M2142.5 1244.9L2163.9 1207.8L2121.1 1207.8Z" fill="#008080"/>
<path d="M2169.8 1244.9L2191.2 1207.8L2148.4 1207.8Z" fill="#008080"/>
<path d="M2197.1 1244.7L2218.5 1207.6L2175.7 1207.6Z" fill="#008080"/>
</g>
<g clip-path="url(#cb)">
<path d="M278.9 3170 L281.9 3169.4 L285 3168.7 L288 3168.2 L291 3167.6 L294.1 3167.1 L297.1 3166.7 L300.1 3166.4 L303.2 3166.2 L306.2 3166.1 L309.2 3166.1 L312.3 3166.1 L315.3 3166 L318.3 3166 L321.4 3166 L324.4 3166 L327.4 3166 L330.5 3166 L333.5 3166 L336.5 3166 L339.6 3166 L342.6 3166 L345.6 3166 L348.7 3166 L351.7 3166 L354.7 3166 L357.8 3166 L360.8 3166 L363.8 3166 L366.9 3166 L369.9 3166 L372.9 3166 L376 3166 L379 3166 L382 3166 L385.1 3166 L388.1 3166 L391.1 3166 L394.2 3166 L397.2 3166 L400.2 3166 L403.3 3166 L406.3 3166 L409.3 3166 L412.4 3166 L415.4 3166 L418.4 3166 L421.5 3166 L424.5 3165.9 L427.5 3165.9 L430.6 3165.9 L433.6 3165.9 L436.6 3165.9 L439.7 3165.9 L442.7 3165.8 L445.7 3165.8 L448.8 3165.8 L451.8 3165.8 L454.8 3165.7 L457.9 3165.7 L460.9 3165.7 L463.9 3165.7 L467 3165.6 L470 3165.6 L473 3165.6 L476.1 3165.5 L479.1 3165.5 L482.1 3165.5 L485.2 3165.5 L488.2 3165.4 L491.2 3165.4 L494.3 3165.4 L497.3 3165.3 L500.3 3165.3 L503.4 3165.3 L506.4 3165.2 L509.4 3165.2 L512.5 3165.2 L515.5 3165.1 L518.5 3165.1 L521.6 3165 L524.6 3165 L527.6 3164.9 L530.7 3164.9 L533.7 3164.9 L536.7 3164.8 L539.8 3164.7 L542.8 3164.7 L545.8 3164.6 L548.9 3164.6 L551.9 3164.5 L554.9 3164.5 L558 3164.4 L561 3164.3 L564 3164.3 L567.1 3164.2 L570.1 3164.2 L573.1 3164.1 L576.2 3164 L579.2 3164 L582.2 3163.9 L585.3 3163.8 L588.3 3163.7 L591.3 3163.7 L594.4 3163.6 L597.4 3163.5 L600.4 3163.5 L603.5 3163.4 L606.5 3163.3 L609.5 3163.2 L612.6 3163.2 L615.6 3163.1 L618.6 3163 L621.7 3162.9 L624.7 3162.9 L627.7 3162.8 L630.8 3162.7 L633.8 3162.6 L636.8 3162.6 L639.9 3162.5 L642.9 3162.4 L645.9 3162.3 L649 3162.2 L652 3162.2 L655 3162.1 L658.1 3162 L661.1 3161.9 L664.1 3161.9 L667.2 3161.8 L670.2 3161.7 L673.2 3161.6 L676.3 3161.6 L679.3 3161.5 L682.3 3161.4 L685.4 3161.3 L688.4 3161.3 L691.4 3161.2 L694.5 3161.1 L697.5 3161.1 L700.5 3161 L703.6 3160.9 L706.6 3160.9 L709.6 3160.8 L712.7 3160.7 L715.7 3160.7 L718.7 3160.6 L721.8 3160.5 L724.8 3160.5 L727.8 3160.4 L730.9 3160.3 L733.9 3160.3 L736.9 3160.2 L740 3160.2 L743 3160.1 L746 3160.1 L749.1 3160 L752.1 3159.9 L755.1 3159.9 L758.2 3159.8 L761.2 3159.8 L764.2 3159.7 L767.3 3159.6 L770.3 3159.6 L773.3 3159.5 L776.4 3159.5 L779.4 3159.4 L782.4 3159.4 L785.5 3159.3 L788.5 3159.2 L791.5 3159.2 L794.6 3159.1 L797.6 3159.1 L800.6 3159 L803.7 3158.9 L806.7 3158.9 L809.7 3158.8 L812.8 3158.7 L815.8 3158.7 L818.8 3158.6 L821.9 3158.5 L824.9 3158.5 L827.9 3158.4 L831 3158.3 L834 3158.2 L837 3158.2 L840.1 3158.1 L843.1 3158 L846.1 3157.9 L849.2 3157.9 L852.2 3157.8 L855.2 3157.7 L858.3 3157.6 L861.3 3157.5 L864.3 3157.4 L867.4 3157.3 L870.4 3157.2 L873.4 3157.1 L876.5 3157 L879.5 3156.9 L882.5 3156.8 L885.6 3156.7 L888.6 3156.6 L891.6 3156.5 L894.7 3156.4 L897.7 3156.3 L900.7 3156.2 L903.8 3156 L906.8 3155.9 L909.8 3155.8 L912.9 3155.6 L915.9 3155.4 L918.9 3155.2 L922 3155 L925 3154.8 L928 3154.6 L931.1 3154.4 L934.1 3154.2 L937.1 3154 L940.2 3153.8 L943.2 3153.5 L946.2 3153.3 L949.3 3153 L952.3 3152.8 L955.3 3152.5 L958.4 3152.3 L961.4 3152 L964.4 3151.7 L967.5 3151.5 L970.5 3151.2 L973.5 3151 L976.6 3150.7 L979.6 3150.4 L982.6 3150.2 L985.7 3149.9 L988.7 3149.6 L991.7 3149.3 L994.8 3149.1 L997.8 3148.8 L1000.8 3148.6 L1003.9 3148.3 L1006.9 3148 L1009.9 3147.7 L1013 3147.4 L1016 3147.1 L1019 3146.8 L1022.1 3146.5 L1025.1 3146.1 L1028.1 3145.8 L1031.2 3145.4 L1034.2 3145 L1037.2 3144.6 L1040.3 3144.2 L1043.3 3143.8 L1046.3 3143.3 L1049.4 3142.9 L1052.4 3142.4 L1055.4 3141.9 L1058.5 3141.3 L1061.5 3140.8 L1064.5 3140.2 L1067.6 3139.5 L1070.6 3138.9 L1073.6 3138.2 L1076.7 3137.4 L1079.7 3136.7 L1082.7 3135.8 L1085.8 3134.9 L1088.8 3134 L1091.8 3133 L1094.9 3132 L1097.9 3131 L1100.9 3129.9 L1104 3128.7 L1107 3127.4 L1110 3126.1 L1113.1 3124.7 L1116.1 3123.3 L1119.1 3121.9 L1122.2 3120.5 L1125.2 3119.2 L1128.3 3117.9 L1131.4 3116.6 L1134.5 3115.3 L1137.6 3114 L1140.8 3112.7 L1143.9 3111.3 L1147 3109.9 L1150.1 3108.4 L1153.2 3106.8 L1156.4 3105 L1159.6 3103.1 L1162.7 3101.1 L1165.9 3099 L1169.1 3096.8 L1172.3 3094.5 L1175.4 3092.1 L1178.6 3089.7 L1181.8 3087.3 L1184.8 3084.9 L1187.9 3082.5 L1190.9 3079.9 L1193.9 3077.3 L1197 3074.6 L1200 3071.9 L1203 3069 L1206.1 3066 L1209.1 3062.9 L1212.4 3059.4 L1215.7 3055.7 L1219 3051.9 L1222.3 3048 L1225.6 3043.8 L1228.9 3039.5 L1232.2 3035 L1235.5 3030.3 L1238.5 3025.8 L1241.6 3021 L1244.6 3016 L1247.6 3010.7 L1250.7 3005.3 L1253.7 2999.8 L1256.7 2994 L1259.8 2988.2 L1262.8 2982.2 L1266.1 2975.5 L1269.4 2968.6 L1272.7 2961.4 L1276 2954 L1279.4 2946.4 L1282.7 2938.6 L1286 2930.5 L1289.3 2922.3 L1292.6 2913.9 L1295.9 2905.4 L1299.3 2896.6 L1302.6 2887.7 L1305.9 2878.4 L1309.2 2868.7 L1312.6 2858.6 L1315.9 2848 L1319.2 2836.8 L1322.5 2824.5 L1325.9 2811 L1329.2 2796.5 L1332.5 2781.5 L1335.8 2766.3 L1339.2 2751.4 L1342.5 2737 L1345.7 2723.8 L1348.9 2711.2 L1352.2 2698.9 L1355.4 2686.8 L1358.6 2674.6 L1361.8 2662 L1365 2649 L1368.3 2635.3 L1371.5 2620.7 L1374.7 2605 L1378 2586.9 L1381.2 2566.2 L1384.5 2544 L1387.7 2521.1 L1391 2498.5 L1394.2 2477.2 L1397.5 2458 L1400.5 2442 L1403.6 2426.8 L1406.6 2412.5 L1409.7 2398.6 L1412.7 2385.1 L1415.7 2371.8 L1418.8 2358.5 L1421.8 2344.9 L1424.9 2331 L1427.9 2316.4 L1431.2 2299.4 L1434.5 2281.3 L1437.8 2262.6 L1441.1 2243.8 L1444.4 2225.6 L1447.7 2208.4 L1451 2193 L1454.3 2179.8 L1457.6 2167.6 L1460.9 2155.1 L1464.2 2142.9 L1467.4 2131.6 L1470.7 2121.8 L1474 2114 L1477.3 2108.9 L1480.6 2107.1 L1483.7 2108.2 L1486.9 2111.2 L1490 2115.7 L1493.2 2121.3 L1496.3 2127.5 L1499.5 2134.1 L1502.6 2140.5 L1505.8 2146.4 L1508.9 2151.4 L1512.2 2155.7 L1515.5 2159.4 L1518.8 2162.8 L1522.2 2166.3 L1525.5 2169.9 L1528.8 2174 L1532.1 2178.8 L1535.4 2184.6 L1538.4 2191.6 L1541.5 2200.9 L1544.5 2211.9 L1547.6 2224.5 L1550.6 2238.1 L1553.7 2252.5 L1556.7 2267.3 L1559.8 2282.1 L1562.8 2296.5 L1565.9 2311.7 L1569 2328.4 L1572.1 2346.1 L1575.2 2364.3 L1578.2 2382.6 L1581.3 2400.3 L1584.4 2417.2 L1587.5 2432.6 L1590.6 2446.1 L1593.8 2458.1 L1596.9 2468.9 L1600.1 2478.9 L1603.3 2488.3 L1606.5 2497.5 L1609.7 2507 L1612.8 2517 L1616 2527.9 L1619.1 2539.4 L1622.1 2551.7 L1625.2 2564.5 L1628.2 2577.7 L1631.3 2591.2 L1634.4 2604.6 L1637.4 2617.9 L1640.5 2630.9 L1643.5 2643.3 L1646.6 2655 L1649.7 2666.4 L1652.8 2677.5 L1656 2688.4 L1659.1 2698.9 L1662.2 2709.2 L1665.3 2719.2 L1668.5 2728.9 L1671.6 2738.3 L1674.8 2747.5 L1678 2756.4 L1681.2 2765 L1684.4 2773.3 L1687.6 2781.5 L1690.8 2789.6 L1694 2797.7 L1697.2 2805.9 L1700.4 2814.3 L1703.7 2823.3 L1707.1 2832.7 L1710.4 2842.3 L1713.7 2851.8 L1717 2861 L1720.3 2869.7 L1723.7 2877.8 L1727 2885 L1730 2890.7 L1733 2896 L1736 2900.9 L1739 2905.5 L1742 2909.9 L1745 2914.4 L1748 2918.9 L1751 2923.6 L1754 2928.6 L1757.1 2934.3 L1760.3 2940.4 L1763.4 2946.7 L1766.5 2953.1 L1769.7 2959.5 L1772.8 2965.7 L1775.9 2971.6 L1779.1 2977 L1782.2 2981.8 L1785.5 2986.2 L1788.8 2990.2 L1792.1 2994 L1795.3 2997.5 L1798.6 3000.9 L1801.9 3004.3 L1805.2 3007.9 L1808.5 3011.6 L1811.6 3015.4 L1814.7 3019.6 L1817.8 3023.8 L1820.9 3028.2 L1824 3032.4 L1827.1 3036.4 L1830.2 3040 L1833.3 3043.2 L1836.4 3045.7 L1839.7 3047.8 L1843 3049.5 L1846.3 3051 L1849.6 3052.3 L1852.8 3053.6 L1856.1 3054.9 L1859.4 3056.4 L1862.7 3058.1 L1866 3060.3 L1869.2 3063.2 L1872.3 3067.3 L1875.5 3072 L1878.7 3077 L1881.8 3082 L1885 3086.7 L1888.1 3090.6 L1891.3 3093.4 L1894.4 3095.3 L1897.5 3096.9 L1900.6 3098.3 L1903.7 3099.6 L1906.8 3100.7 L1909.9 3101.9 L1913 3103.1 L1916.1 3104.4 L1919.2 3105.9 L1922.4 3107.7 L1925.6 3109.7 L1928.8 3111.9 L1932.1 3114.1 L1935.3 3116.3 L1938.5 3118.4 L1941.7 3120.3 L1944.9 3122 L1948 3123.4 L1951.2 3124.7 L1954.3 3125.9 L1957.4 3127 L1960.6 3128.1 L1963.7 3129.2 L1966.8 3130.3 L1970 3131.5 L1973.1 3132.8 L1976.2 3134.2 L1979.4 3135.8 L1982.5 3137.5 L1985.6 3139.2 L1988.8 3141 L1991.9 3142.6 L1995 3144.2 L1998.2 3145.7 L2001.3 3146.9 L2004.5 3148 L2007.6 3148.9 L2010.8 3149.8 L2014 3150.6 L2017.2 3151.4 L2020.3 3152.1 L2023.5 3153 L2026.7 3153.9 L2029.8 3154.9 L2033 3156.2 L2036.2 3157.6 L2039.4 3159.2 L2042.5 3160.8 L2045.7 3162.4 L2048.9 3164 L2052.1 3165.5 L2055.2 3166.9 L2058.4 3168 L2061.4 3168.9 L2064.5 3169.8 L2067.5 3170.6 L2070.5 3171.3 L2073.6 3172 L2076.6 3172.7 L2079.6 3173.3 L2082.7 3173.9 L2085.7 3174.4 L2088.7 3174.9 L2091.8 3175.3 L2094.8 3175.6 L2097.9 3176 L2100.9 3176.3 L2104 3176.7 L2107 3177 L2110.1 3177.4 L2113.1 3177.8 L2116.1 3178.2 L2119.1 3178.6 L2122.1 3179 L2125.1 3179.5 L2128.2 3179.9 L2131.2 3180.5 L2134.2 3181.1 L2137.2 3181.9 L2140.2 3183.2 L2143.2 3185.4 L2146.2 3188.2 L2149.2 3191.3 L2152.3 3194.5 L2155.3 3197.4 L2158.3 3199.8 L2161.3 3201.5 L2164.3 3202.1 L2167.5 3202.1 L2170.7 3202 L2173.9 3201.9 L2177.1 3201.6 L2180.3 3201.1 L2183.5 3200.4 L2186.7 3199.4 L2189.9 3198.1 L2193.1 3196.3 L2196.3 3194.2" fill="none" stroke="#000000" stroke-width="10.5" stroke-linejoin="round" stroke-linecap="round"/>
<rect x="262.9" y="3154" width="32" height="32" fill="#000000"/>
<rect x="290.2" y="3150.1" width="32" height="32" fill="#000000"/>
<rect x="317.5" y="3150" width="32" height="32" fill="#000000"/>
<rect x="344.8" y="3150" width="32" height="32" fill="#000000"/>
<rect x="372.1" y="3150" width="32" height="32" fill="#000000"/>
<rect x="399.4" y="3150" width="32" height="32" fill="#000000"/>
<rect x="426.7" y="3149.8" width="32" height="32" fill="#000000"/>
<rect x="454" y="3149.6" width="32" height="32" fill="#000000"/>
<rect x="481.3" y="3149.3" width="32" height="32" fill="#000000"/>
<rect x="508.6" y="3149" width="32" height="32" fill="#000000"/>
<rect x="535.9" y="3148.5" width="32" height="32" fill="#000000"/>
<rect x="563.2" y="3148" width="32" height="32" fill="#000000"/>
<rect x="590.5" y="3147.3" width="32" height="32" fill="#000000"/>
<rect x="617.8" y="3146.6" width="32" height="32" fill="#000000"/>
<rect x="645.1" y="3145.9" width="32" height="32" fill="#000000"/>
<rect x="672.4" y="3145.3" width="32" height="32" fill="#000000"/>
<rect x="699.7" y="3144.7" width="32" height="32" fill="#000000"/>
<rect x="727" y="3144.1" width="32" height="32" fill="#000000"/>
<rect x="754.3" y="3143.6" width="32" height="32" fill="#000000"/>
<rect x="781.6" y="3143.1" width="32" height="32" fill="#000000"/>
<rect x="808.9" y="3142.5" width="32" height="32" fill="#000000"/>
<rect x="836.2" y="3141.8" width="32" height="32" fill="#000000"/>
<rect x="863.5" y="3140.9" width="32" height="32" fill="#000000"/>
<rect x="890.8" y="3139.9" width="32" height="32" fill="#000000"/>
<rect x="918.1" y="3138.2" width="32" height="32" fill="#000000"/>
<rect x="945.4" y="3136" width="32" height="32" fill="#000000"/>
<rect x="972.7" y="3133.6" width="32" height="32" fill="#000000"/>
<rect x="1000" y="3131.1" width="32" height="32" fill="#000000"/>
<rect x="1027.3" y="3127.8" width="32" height="32" fill="#000000"/>
<rect x="1054.6" y="3122.9" width="32" height="32" fill="#000000"/>
<rect x="1081.9" y="3115" width="32" height="32" fill="#000000"/>
<rect x="1109.2" y="3103.2" width="32" height="32" fill="#000000"/>
<rect x="1137.2" y="3090.8" width="32" height="32" fill="#000000"/>
<rect x="1165.8" y="3071.3" width="32" height="32" fill="#000000"/>
<rect x="1193.1" y="3046.9" width="32" height="32" fill="#000000"/>
<rect x="1219.5" y="3014.3" width="32" height="32" fill="#000000"/>
<rect x="1246.8" y="2966.2" width="32" height="32" fill="#000000"/>
<rect x="1273.3" y="2906.3" width="32" height="32" fill="#000000"/>
<rect x="1303.2" y="2820.8" width="32" height="32" fill="#000000"/>
<rect x="1326.5" y="2721" width="32" height="32" fill="#000000"/>
<rect x="1358.7" y="2589" width="32" height="32" fill="#000000"/>
<rect x="1381.5" y="2442" width="32" height="32" fill="#000000"/>
<rect x="1411.9" y="2300.4" width="32" height="32" fill="#000000"/>
<rect x="1438.3" y="2163.8" width="32" height="32" fill="#000000"/>
<rect x="1464.6" y="2091.1" width="32" height="32" fill="#000000"/>
<rect x="1492.9" y="2135.4" width="32" height="32" fill="#000000"/>
<rect x="1519.4" y="2168.6" width="32" height="32" fill="#000000"/>
<rect x="1546.8" y="2280.5" width="32" height="32" fill="#000000"/>
<rect x="1574.6" y="2430.1" width="32" height="32" fill="#000000"/>
<rect x="1600" y="2511.9" width="32" height="32" fill="#000000"/>
<rect x="1630.6" y="2639" width="32" height="32" fill="#000000"/>
<rect x="1655.6" y="2722.3" width="32" height="32" fill="#000000"/>
<rect x="1684.4" y="2798.3" width="32" height="32" fill="#000000"/>
<rect x="1711" y="2869" width="32" height="32" fill="#000000"/>
<rect x="1738" y="2912.6" width="32" height="32" fill="#000000"/>
<rect x="1766.2" y="2965.8" width="32" height="32" fill="#000000"/>
<rect x="1792.5" y="2995.6" width="32" height="32" fill="#000000"/>
<rect x="1820.4" y="3029.7" width="32" height="32" fill="#000000"/>
<rect x="1850" y="3044.3" width="32" height="32" fill="#000000"/>
<rect x="1875.3" y="3077.4" width="32" height="32" fill="#000000"/>
<rect x="1903.2" y="3089.9" width="32" height="32" fill="#000000"/>
<rect x="1928.9" y="3106" width="32" height="32" fill="#000000"/>
<rect x="1957.1" y="3116.8" width="32" height="32" fill="#000000"/>
<rect x="1985.3" y="3130.9" width="32" height="32" fill="#000000"/>
<rect x="2013.8" y="3138.9" width="32" height="32" fill="#000000"/>
<rect x="2042.4" y="3152" width="32" height="32" fill="#000000"/>
<rect x="2069.7" y="3158.4" width="32" height="32" fill="#000000"/>
<rect x="2097.1" y="3161.8" width="32" height="32" fill="#000000"/>
<rect x="2121.2" y="3165.9" width="32" height="32" fill="#000000"/>
<rect x="2148.3" y="3186.1" width="32" height="32" fill="#000000"/>
<rect x="2180.3" y="3178.2" width="32" height="32" fill="#000000"/>
</g>
<g clip-path="url(#cb)">
<path d="M283.8 3157.8 L286.8 3157.9 L289.9 3157.9 L292.9 3157.9 L295.9 3157.9 L299 3158 L302 3158 L305 3158 L308.1 3158 L311.1 3158.1 L314.1 3158.1 L317.2 3158.1 L320.2 3158.1 L323.2 3158.1 L326.3 3158.2 L329.3 3158.2 L332.3 3158.2 L335.4 3158.2 L338.4 3158.2 L341.4 3158.2 L344.5 3158.3 L347.5 3158.3 L350.5 3158.3 L353.6 3158.3 L356.6 3158.3 L359.6 3158.3 L362.7 3158.3 L365.7 3158.3 L368.7 3158.4 L371.8 3158.4 L374.8 3158.4 L377.8 3158.4 L380.9 3158.4 L383.9 3158.4 L386.9 3158.4 L390 3158.4 L393 3158.4 L396 3158.4 L399.1 3158.4 L402.1 3158.4 L405.1 3158.4 L408.2 3158.4 L411.2 3158.5 L414.2 3158.5 L417.3 3158.5 L420.3 3158.5 L423.3 3158.5 L426.4 3158.5 L429.4 3158.5 L432.4 3158.5 L435.5 3158.5 L438.5 3158.5 L441.5 3158.5 L444.6 3158.5 L447.6 3158.5 L450.6 3158.5 L453.7 3158.5 L456.7 3158.5 L459.7 3158.5 L462.8 3158.5 L465.8 3158.5 L468.8 3158.5 L471.9 3158.5 L474.9 3158.5 L477.9 3158.5 L481 3158.5 L484 3158.5 L487 3158.5 L490.1 3158.5 L493.1 3158.5 L496.1 3158.5 L499.2 3158.5 L502.2 3158.5 L505.2 3158.5 L508.3 3158.5 L511.3 3158.5 L514.3 3158.5 L517.4 3158.4 L520.4 3158.4 L523.4 3158.4 L526.5 3158.4 L529.5 3158.3 L532.5 3158.3 L535.6 3158.3 L538.6 3158.3 L541.6 3158.2 L544.7 3158.2 L547.7 3158.1 L550.7 3158.1 L553.8 3158 L556.8 3158 L559.8 3157.9 L562.9 3157.9 L565.9 3157.8 L568.9 3157.7 L572 3157.7 L575 3157.6 L578 3157.6 L581.1 3157.5 L584.1 3157.4 L587.1 3157.4 L590.2 3157.3 L593.2 3157.2 L596.2 3157.1 L599.3 3157.1 L602.3 3157 L605.3 3156.9 L608.4 3156.8 L611.4 3156.8 L614.4 3156.7 L617.5 3156.6 L620.5 3156.5 L623.5 3156.5 L626.6 3156.4 L629.6 3156.3 L632.6 3156.2 L635.7 3156.1 L638.7 3156.1 L641.7 3156 L644.8 3155.9 L647.8 3155.8 L650.8 3155.7 L653.9 3155.6 L656.9 3155.6 L659.9 3155.5 L663 3155.4 L666 3155.3 L669 3155.3 L672.1 3155.2 L675.1 3155.1 L678.1 3155 L681.2 3154.9 L684.2 3154.9 L687.2 3154.8 L690.3 3154.7 L693.3 3154.7 L696.3 3154.6 L699.4 3154.5 L702.4 3154.4 L705.4 3154.4 L708.5 3154.3 L711.5 3154.3 L714.5 3154.2 L717.6 3154.1 L720.6 3154.1 L723.6 3154 L726.7 3153.9 L729.7 3153.9 L732.7 3153.8 L735.8 3153.8 L738.8 3153.7 L741.8 3153.7 L744.9 3153.6 L747.9 3153.5 L750.9 3153.5 L754 3153.4 L757 3153.4 L760 3153.3 L763.1 3153.3 L766.1 3153.2 L769.1 3153.2 L772.2 3153.1 L775.2 3153 L778.2 3153 L781.3 3152.9 L784.3 3152.9 L787.3 3152.8 L790.4 3152.7 L793.4 3152.7 L796.4 3152.6 L799.5 3152.6 L802.5 3152.5 L805.5 3152.4 L808.6 3152.4 L811.6 3152.3 L814.6 3152.2 L817.7 3152.2 L820.7 3152.1 L823.7 3152 L826.8 3151.9 L829.8 3151.9 L832.8 3151.8 L835.9 3151.7 L838.9 3151.6 L841.9 3151.6 L845 3151.5 L848 3151.4 L851 3151.3 L854.1 3151.2 L857.1 3151.1 L860.1 3151 L863.2 3150.9 L866.2 3150.8 L869.2 3150.7 L872.3 3150.6 L875.3 3150.5 L878.3 3150.4 L881.4 3150.3 L884.4 3150.2 L887.4 3150 L890.5 3149.9 L893.5 3149.8 L896.5 3149.6 L899.6 3149.5 L902.6 3149.3 L905.6 3149.1 L908.7 3148.9 L911.7 3148.7 L914.7 3148.5 L917.8 3148.3 L920.8 3148 L923.8 3147.7 L926.9 3147.4 L929.9 3147.1 L932.9 3146.7 L936 3146.4 L939 3146.1 L942.1 3145.8 L945.1 3145.4 L948.2 3145.1 L951.3 3144.7 L954.4 3144.4 L957.5 3144.1 L960.5 3143.8 L963.6 3143.5 L966.7 3143.3 L969.8 3143.1 L973 3142.9 L976.1 3142.7 L979.2 3142.6 L982.3 3142.4 L985.5 3142.2 L988.6 3142 L991.7 3141.7 L994.8 3141.4 L997.9 3141 L1001 3140.5 L1004.2 3140 L1007.3 3139.4 L1010.4 3138.9 L1013.5 3138.3 L1016.6 3137.8 L1019.9 3137.3 L1023.2 3136.7 L1026.5 3136.2 L1029.8 3135.6 L1033 3135 L1036.3 3134.5 L1039.6 3133.9 L1042.9 3133.3 L1046.2 3132.8 L1049.2 3132.3 L1052.3 3131.8 L1055.3 3131.4 L1058.3 3130.9 L1061.4 3130.4 L1064.4 3130 L1067.4 3129.5 L1070.5 3129 L1073.5 3128.4 L1076.6 3127.8 L1079.8 3127.2 L1082.9 3126.5 L1086 3125.8 L1089.1 3125.1 L1092.2 3124.4 L1095.4 3123.6 L1098.5 3122.7 L1101.6 3121.8 L1104.7 3120.8 L1107.8 3119.7 L1110.9 3118.5 L1114.1 3117.3 L1117.2 3116 L1120.3 3114.8 L1123.4 3113.5 L1126.5 3112.2 L1129.5 3111 L1132.5 3109.7 L1135.5 3108.4 L1138.5 3107.1 L1141.5 3105.8 L1144.5 3104.4 L1147.5 3103 L1150.5 3101.5 L1153.5 3100 L1156.7 3098.3 L1159.9 3096.6 L1163.1 3094.8 L1166.3 3092.9 L1169.4 3091 L1172.6 3088.9 L1175.8 3086.8 L1179 3084.7 L1182.2 3082.4 L1185.3 3080 L1188.5 3077.5 L1191.6 3074.9 L1194.8 3072.2 L1197.9 3069.3 L1201.1 3066.4 L1204.2 3063.5 L1207.4 3060.4 L1210.5 3057.4 L1213.7 3054.2 L1217 3051 L1220.2 3047.8 L1223.5 3044.4 L1226.7 3040.9 L1229.9 3037.3 L1233.2 3033.5 L1236.4 3029.5 L1239.6 3025.4 L1242.7 3021.1 L1245.9 3016.6 L1249.1 3011.9 L1252.2 3007 L1255.4 3002 L1258.6 2996.8 L1261.7 2991.4 L1264.9 2986 L1268 2980.6 L1271 2975 L1274.1 2969.3 L1277.2 2963.4 L1280.2 2957.3 L1283.3 2950.9 L1286.4 2944.4 L1289.4 2937.6 L1292.5 2930.5 L1295.9 2922.2 L1299.3 2913.2 L1302.7 2903.8 L1306 2894 L1309.4 2884.1 L1312.8 2874.3 L1316.2 2864.6 L1319.2 2856.3 L1322.2 2848.1 L1325.3 2840.1 L1328.3 2832.1 L1331.3 2824.1 L1334.3 2815.9 L1337.3 2807.6 L1340.3 2798.9 L1343.4 2790 L1346.4 2780.6 L1349.4 2770.7 L1352.7 2758.9 L1356.1 2746 L1359.4 2732.4 L1362.7 2718.3 L1366 2704 L1369.4 2689.9 L1372.7 2676.2 L1375.8 2663.7 L1378.9 2651.2 L1382 2638.7 L1385.1 2626.3 L1388.3 2613.9 L1391.4 2601.5 L1394.5 2589.2 L1397.6 2576.9 L1400.7 2564.6 L1403.9 2551.9 L1407.1 2539.2 L1410.4 2526.5 L1413.6 2513.9 L1416.8 2501.3 L1420 2488.8 L1423.3 2476.4 L1426.5 2464.1 L1429.7 2452 L1432.8 2440 L1435.8 2427.3 L1438.9 2414.5 L1442 2401.8 L1445.1 2389.9 L1448.2 2379.2 L1451.2 2370 L1454.3 2363 L1457.5 2357.2 L1460.8 2352.1 L1464 2347.6 L1467.3 2343.5 L1470.5 2339.7 L1473.7 2336.2 L1477 2332.9 L1480.2 2329.5 L1483.5 2326.1 L1486.7 2322.5 L1489.8 2318.7 L1492.8 2314.4 L1495.9 2310 L1499 2305.8 L1502 2302 L1505.1 2299 L1508.1 2296.9 L1511.2 2296.2 L1514.2 2296.9 L1517.3 2298.7 L1520.3 2301.6 L1523.3 2305.4 L1526.4 2309.8 L1529.4 2314.8 L1532.4 2320.2 L1535.5 2325.7 L1538.5 2331.3 L1541.5 2337.7 L1544.5 2345.7 L1547.5 2354.9 L1550.5 2365.1 L1553.5 2375.9 L1556.6 2387 L1559.6 2398 L1562.6 2408.7 L1565.6 2418.7 L1568.6 2427.6 L1571.8 2435.9 L1574.9 2443.6 L1578.1 2450.9 L1581.3 2458.2 L1584.5 2465.6 L1587.6 2473.5 L1590.8 2482.2 L1593.9 2491.8 L1597.1 2502.3 L1600.2 2513.5 L1603.3 2525.2 L1606.5 2537.1 L1609.6 2549.1 L1612.7 2560.9 L1615.9 2572.2 L1619 2583 L1622.2 2593.7 L1625.5 2604.2 L1628.7 2614.5 L1632 2624.6 L1635.2 2634.6 L1638.5 2644.5 L1641.7 2654.2 L1645 2663.7 L1648.2 2673.1 L1651.4 2682 L1654.5 2690.6 L1657.7 2699 L1660.8 2707.3 L1664 2715.5 L1667.2 2723.9 L1670.3 2732.5 L1673.5 2741.3 L1676.5 2750.2 L1679.5 2759.7 L1682.5 2769.6 L1685.5 2779.6 L1688.5 2789.6 L1691.5 2799.4 L1694.5 2808.8 L1697.5 2817.6 L1700.5 2825.5 L1703.5 2832.5 L1706.7 2839 L1710 2845 L1713.2 2850.5 L1716.5 2855.6 L1719.7 2860.5 L1722.9 2865.4 L1726.2 2870.3 L1729.4 2875.4 L1732.5 2880.3 L1735.6 2885.1 L1738.6 2889.8 L1741.7 2894.5 L1744.8 2899.2 L1747.9 2903.9 L1750.9 2908.8 L1754 2913.9 L1757.1 2919.2 L1760.1 2924.9 L1763.2 2931.3 L1766.2 2938 L1769.2 2944.8 L1772.3 2951.6 L1775.3 2958.1 L1778.3 2964 L1781.4 2969.2 L1784.4 2973.4 L1787.5 2976.8 L1790.5 2979.6 L1793.6 2982.1 L1796.7 2984.4 L1799.7 2986.5 L1802.8 2988.7 L1805.9 2991.1 L1808.9 2993.7 L1812 2996.8 L1815.1 3000.7 L1818.3 3005.3 L1821.4 3010.4 L1824.6 3015.8 L1827.7 3021.3 L1830.9 3026.6 L1834 3031.6 L1837.2 3036 L1840.3 3039.6 L1843.6 3042.7 L1846.9 3045.4 L1850.2 3047.9 L1853.4 3050.2 L1856.7 3052.4 L1860 3054.6 L1863.3 3056.8 L1866.6 3059.1 L1869.6 3061.3 L1872.6 3063.5 L1875.7 3065.6 L1878.7 3067.8 L1881.7 3070 L1884.7 3072.1 L1887.8 3074.3 L1890.8 3076.4 L1893.8 3078.6 L1896.8 3080.8 L1899.9 3083.1 L1902.9 3085.4 L1905.9 3087.7 L1909 3089.9 L1912 3092.2 L1915 3094.3 L1918.1 3096.3 L1921.1 3098.2 L1924.4 3100.1 L1927.7 3101.9 L1931 3103.5 L1934.2 3105.2 L1937.5 3106.8 L1940.8 3108.4 L1944.1 3110 L1947.4 3111.7 L1950.5 3113.5 L1953.5 3115.4 L1956.6 3117.5 L1959.7 3119.6 L1962.7 3121.7 L1965.8 3123.5 L1968.9 3125.1 L1971.9 3126.3 L1975 3127 L1978 3127.4 L1981 3127.7 L1984.1 3127.9 L1987.1 3128.1 L1990.1 3128.3 L1993.1 3128.5 L1996.2 3128.7 L1999.2 3129 L2002.2 3129.4 L2005.3 3130 L2008.4 3131 L2011.5 3132.1 L2014.6 3133.5 L2017.7 3135 L2020.8 3136.4 L2023.9 3137.9 L2027 3139.2 L2030.1 3140.4 L2033.2 3141.4 L2036.3 3142.3 L2039.5 3143.2 L2042.6 3144 L2045.7 3144.8 L2048.8 3145.6 L2051.9 3146.5 L2055.1 3147.4 L2058.2 3148.4 L2061.3 3149.6 L2064.5 3151.2 L2067.7 3153.2 L2070.9 3155.5 L2074.1 3158 L2077.2 3160.5 L2080.4 3162.7 L2083.6 3164.6 L2086.8 3165.9 L2090 3166.5 L2093.1 3166.7 L2096.2 3166.8 L2099.3 3167 L2102.4 3167.1 L2105.5 3167.2 L2108.6 3167.3 L2111.7 3167.4 L2114.8 3167.4 L2117.9 3167.4 L2121.2 3167.3 L2124.4 3167 L2127.7 3166.6 L2130.9 3166.1 L2134.2 3165.6 L2137.5 3165.2 L2140.7 3164.9 L2144 3164.8 L2147.2 3165.4 L2150.3 3167.1 L2153.5 3169.4 L2156.7 3172 L2159.9 3174.6 L2163.1 3176.9 L2166.2 3178.6 L2169.4 3179.2 L2172.4 3179.2 L2175.4 3179.2 L2178.4 3179.1 L2181.4 3179 L2184.4 3178.8 L2187.4 3178.5 L2190.4 3178.1 L2193.4 3177.6 L2196.4 3176.9" fill="none" stroke="#ff0000" stroke-width="10.5" stroke-linejoin="round" stroke-linecap="round"/>
<circle cx="283.8" cy="3157.8" r="17.6" fill="#ff0000"/>
<circle cx="311.1" cy="3158.1" r="17.6" fill="#ff0000"/>
<circle cx="338.4" cy="3158.2" r="17.6" fill="#ff0000"/>
<circle cx="365.7" cy="3158.3" r="17.6" fill="#ff0000"/>
<circle cx="393" cy="3158.4" r="17.6" fill="#ff0000"/>
<circle cx="420.3" cy="3158.5" r="17.6" fill="#ff0000"/>
<circle cx="447.6" cy="3158.5" r="17.6" fill="#ff0000"/>
<circle cx="474.9" cy="3158.5" r="17.6" fill="#ff0000"/>
<circle cx="502.2" cy="3158.5" r="17.6" fill="#ff0000"/>
<circle cx="529.5" cy="3158.3" r="17.6" fill="#ff0000"/>
<circle cx="556.8" cy="3158" r="17.6" fill="#ff0000"/>
<circle cx="584.1" cy="3157.4" r="17.6" fill="#ff0000"/>
<circle cx="611.4" cy="3156.8" r="17.6" fill="#ff0000"/>
<circle cx="638.7" cy="3156.1" r="17.6" fill="#ff0000"/>
<circle cx="666" cy="3155.3" r="17.6" fill="#ff0000"/>
<circle cx="693.3" cy="3154.7" r="17.6" fill="#ff0000"/>
<circle cx="720.6" cy="3154.1" r="17.6" fill="#ff0000"/>
<circle cx="747.9" cy="3153.5" r="17.6" fill="#ff0000"/>
<circle cx="775.2" cy="3153" r="17.6" fill="#ff0000"/>
<circle cx="802.5" cy="3152.5" r="17.6" fill="#ff0000"/>
<circle cx="829.8" cy="3151.9" r="17.6" fill="#ff0000"/>
<circle cx="857.1" cy="3151.1" r="17.6" fill="#ff0000"/>
<circle cx="884.4" cy="3150.2" r="17.6" fill="#ff0000"/>
<circle cx="911.7" cy="3148.7" r="17.6" fill="#ff0000"/>
<circle cx="939" cy="3146.1" r="17.6" fill="#ff0000"/>
<circle cx="963.6" cy="3143.5" r="17.6" fill="#ff0000"/>
<circle cx="991.7" cy="3141.7" r="17.6" fill="#ff0000"/>
<circle cx="1016.6" cy="3137.8" r="17.6" fill="#ff0000"/>
<circle cx="1046.2" cy="3132.8" r="17.6" fill="#ff0000"/>
<circle cx="1073.5" cy="3128.4" r="17.6" fill="#ff0000"/>
<circle cx="1098.5" cy="3122.7" r="17.6" fill="#ff0000"/>
<circle cx="1126.5" cy="3112.2" r="17.6" fill="#ff0000"/>
<circle cx="1153.5" cy="3100" r="17.6" fill="#ff0000"/>
<circle cx="1182.2" cy="3082.4" r="17.6" fill="#ff0000"/>
<circle cx="1210.5" cy="3057.4" r="17.6" fill="#ff0000"/>
<circle cx="1236.4" cy="3029.5" r="17.6" fill="#ff0000"/>
<circle cx="1264.9" cy="2986" r="17.6" fill="#ff0000"/>
<circle cx="1292.5" cy="2930.5" r="17.6" fill="#ff0000"/>
<circle cx="1316.2" cy="2864.6" r="17.6" fill="#ff0000"/>
<circle cx="1349.4" cy="2770.7" r="17.6" fill="#ff0000"/>
<circle cx="1372.7" cy="2676.2" r="17.6" fill="#ff0000"/>
<circle cx="1400.7" cy="2564.6" r="17.6" fill="#ff0000"/>
<circle cx="1429.7" cy="2452" r="17.6" fill="#ff0000"/>
<circle cx="1454.3" cy="2363" r="17.6" fill="#ff0000"/>
<circle cx="1486.7" cy="2322.5" r="17.6" fill="#ff0000"/>
<circle cx="1511.2" cy="2296.2" r="17.6" fill="#ff0000"/>
<circle cx="1538.5" cy="2331.3" r="17.6" fill="#ff0000"/>
<circle cx="1568.6" cy="2427.6" r="17.6" fill="#ff0000"/>
<circle cx="1590.8" cy="2482.2" r="17.6" fill="#ff0000"/>
<circle cx="1619" cy="2583" r="17.6" fill="#ff0000"/>
<circle cx="1648.2" cy="2673.1" r="17.6" fill="#ff0000"/>
<circle cx="1673.5" cy="2741.3" r="17.6" fill="#ff0000"/>
<circle cx="1703.5" cy="2832.5" r="17.6" fill="#ff0000"/>
<circle cx="1729.4" cy="2875.4" r="17.6" fill="#ff0000"/>
<circle cx="1757.1" cy="2919.2" r="17.6" fill="#ff0000"/>
<circle cx="1784.4" cy="2973.4" r="17.6" fill="#ff0000"/>
<circle cx="1812" cy="2996.8" r="17.6" fill="#ff0000"/>
<circle cx="1840.3" cy="3039.6" r="17.6" fill="#ff0000"/>
<circle cx="1866.6" cy="3059.1" r="17.6" fill="#ff0000"/>
<circle cx="1893.8" cy="3078.6" r="17.6" fill="#ff0000"/>
<circle cx="1921.1" cy="3098.2" r="17.6" fill="#ff0000"/>
<circle cx="1947.4" cy="3111.7" r="17.6" fill="#ff0000"/>
<circle cx="1975" cy="3127" r="17.6" fill="#ff0000"/>
<circle cx="2002.2" cy="3129.4" r="17.6" fill="#ff0000"/>
<circle cx="2030.1" cy="3140.4" r="17.6" fill="#ff0000"/>
<circle cx="2061.3" cy="3149.6" r="17.6" fill="#ff0000"/>
<circle cx="2090" cy="3166.5" r="17.6" fill="#ff0000"/>
<circle cx="2117.9" cy="3167.4" r="17.6" fill="#ff0000"/>
<circle cx="2144" cy="3164.8" r="17.6" fill="#ff0000"/>
<circle cx="2169.4" cy="3179.2" r="17.6" fill="#ff0000"/>
<circle cx="2196.4" cy="3176.9" r="17.6" fill="#ff0000"/>
</g>
<g clip-path="url(#cb)">
<path d="M281.1 3163.5 L284.1 3163.5 L287.2 3163.5 L290.2 3163.6 L293.2 3163.6 L296.3 3163.6 L299.3 3163.6 L302.3 3163.6 L305.4 3163.6 L308.4 3163.6 L311.4 3163.6 L314.5 3163.7 L317.5 3163.7 L320.5 3163.7 L323.6 3163.7 L326.6 3163.7 L329.6 3163.7 L332.7 3163.7 L335.7 3163.7 L338.7 3163.7 L341.8 3163.8 L344.8 3163.8 L347.8 3163.8 L350.9 3163.8 L353.9 3163.8 L356.9 3163.8 L360 3163.8 L363 3163.8 L366 3163.8 L369.1 3163.8 L372.1 3163.8 L375.1 3163.8 L378.2 3163.8 L381.2 3163.8 L384.2 3163.8 L387.3 3163.8 L390.3 3163.9 L393.3 3163.9 L396.4 3163.9 L399.4 3163.9 L402.4 3163.9 L405.5 3163.9 L408.5 3163.9 L411.5 3163.9 L414.6 3163.9 L417.6 3163.9 L420.6 3163.9 L423.7 3163.9 L426.7 3163.9 L429.7 3163.9 L432.8 3163.9 L435.8 3163.9 L438.8 3163.9 L441.9 3163.9 L444.9 3163.9 L447.9 3163.9 L451 3163.9 L454 3163.9 L457 3163.9 L460.1 3163.9 L463.1 3163.9 L466.1 3163.9 L469.2 3163.9 L472.2 3163.9 L475.2 3163.9 L478.3 3163.9 L481.3 3163.9 L484.3 3163.9 L487.4 3163.9 L490.4 3163.9 L493.4 3163.9 L496.5 3163.9 L499.5 3163.9 L502.5 3163.9 L505.6 3163.9 L508.6 3163.9 L511.6 3163.9 L514.7 3163.9 L517.7 3163.8 L520.7 3163.8 L523.8 3163.8 L526.8 3163.8 L529.8 3163.7 L532.9 3163.7 L535.9 3163.7 L538.9 3163.6 L542 3163.6 L545 3163.6 L548 3163.5 L551.1 3163.5 L554.1 3163.4 L557.1 3163.4 L560.2 3163.3 L563.2 3163.3 L566.2 3163.2 L569.3 3163.1 L572.3 3163.1 L575.3 3163 L578.4 3162.9 L581.4 3162.9 L584.4 3162.8 L587.5 3162.7 L590.5 3162.7 L593.5 3162.6 L596.6 3162.5 L599.6 3162.5 L602.6 3162.4 L605.7 3162.3 L608.7 3162.2 L611.7 3162.2 L614.8 3162.1 L617.8 3162 L620.8 3161.9 L623.9 3161.8 L626.9 3161.8 L629.9 3161.7 L633 3161.6 L636 3161.5 L639 3161.5 L642.1 3161.4 L645.1 3161.3 L648.1 3161.2 L651.2 3161.1 L654.2 3161.1 L657.2 3161 L660.3 3160.9 L663.3 3160.8 L666.3 3160.8 L669.4 3160.7 L672.4 3160.6 L675.4 3160.5 L678.5 3160.5 L681.5 3160.4 L684.5 3160.3 L687.6 3160.3 L690.6 3160.2 L693.6 3160.1 L696.7 3160.1 L699.7 3160 L702.7 3159.9 L705.8 3159.9 L708.8 3159.8 L711.8 3159.8 L714.9 3159.7 L717.9 3159.7 L720.9 3159.6 L724 3159.6 L727 3159.5 L730 3159.5 L733.1 3159.4 L736.1 3159.4 L739.1 3159.3 L742.2 3159.3 L745.2 3159.2 L748.2 3159.2 L751.3 3159.1 L754.3 3159.1 L757.3 3159.1 L760.4 3159 L763.4 3159 L766.4 3158.9 L769.5 3158.9 L772.5 3158.8 L775.5 3158.8 L778.6 3158.7 L781.6 3158.7 L784.6 3158.7 L787.7 3158.6 L790.7 3158.6 L793.7 3158.5 L796.8 3158.5 L799.8 3158.4 L802.8 3158.4 L805.9 3158.3 L808.9 3158.3 L811.9 3158.2 L815 3158.2 L818 3158.1 L821 3158.1 L824.1 3158 L827.1 3157.9 L830.1 3157.9 L833.2 3157.8 L836.2 3157.7 L839.2 3157.7 L842.3 3157.6 L845.3 3157.5 L848.3 3157.5 L851.4 3157.4 L854.4 3157.3 L857.4 3157.3 L860.5 3157.2 L863.5 3157.1 L866.5 3157 L869.6 3156.9 L872.6 3156.8 L875.6 3156.7 L878.7 3156.7 L881.7 3156.5 L884.7 3156.4 L887.8 3156.3 L890.8 3156.2 L893.8 3156.1 L896.9 3156 L899.9 3155.9 L902.9 3155.7 L906 3155.6 L909 3155.4 L912 3155.2 L915.1 3154.9 L918.1 3154.6 L921.1 3154.3 L924.2 3153.9 L927.2 3153.5 L930.2 3153.2 L933.3 3152.8 L936.3 3152.5 L939.3 3152.1 L942.4 3151.8 L945.4 3151.4 L948.4 3151 L951.5 3150.7 L954.5 3150.3 L957.5 3150 L960.6 3149.7 L963.6 3149.4 L966.7 3149.1 L969.8 3148.9 L973 3148.7 L976.1 3148.4 L979.2 3148.2 L982.3 3148 L985.5 3147.8 L988.6 3147.5 L991.7 3147.3 L994.8 3147 L997.9 3146.8 L1001 3146.5 L1004.2 3146.2 L1007.3 3146 L1010.4 3145.7 L1013.5 3145.3 L1016.6 3145 L1019.9 3144.6 L1023.2 3144.2 L1026.5 3143.8 L1029.8 3143.3 L1033 3142.8 L1036.3 3142.3 L1039.6 3141.8 L1042.9 3141.3 L1046.2 3140.8 L1049.4 3140.3 L1052.6 3139.7 L1055.8 3139.2 L1059.1 3138.6 L1062.3 3138.1 L1065.5 3137.5 L1068.7 3136.9 L1071.9 3136.4 L1074.9 3135.9 L1078 3135.5 L1081 3135 L1084.1 3134.6 L1087.1 3134.2 L1090.1 3133.8 L1093.2 3133.3 L1096.2 3132.8 L1099.3 3132.3 L1102.3 3131.7 L1105.4 3131 L1108.5 3130.2 L1111.6 3129.3 L1114.8 3128.4 L1117.9 3127.5 L1121 3126.5 L1124.1 3125.5 L1127.3 3124.5 L1130.4 3123.5 L1133.6 3122.5 L1136.8 3121.5 L1139.9 3120.4 L1143.1 3119.3 L1146.3 3118.2 L1149.5 3117.1 L1152.6 3115.8 L1155.8 3114.6 L1159 3113.3 L1162.1 3111.9 L1165.2 3110.5 L1168.4 3109 L1171.5 3107.5 L1174.7 3105.9 L1177.8 3104.3 L1181 3102.6 L1184.2 3100.9 L1187.3 3099.1 L1190.5 3097.2 L1193.6 3095.3 L1196.8 3093.3 L1199.9 3091.3 L1203 3089.2 L1206.2 3087 L1209.2 3084.8 L1212.2 3082.6 L1215.3 3080.2 L1218.3 3077.8 L1221.3 3075.3 L1224.3 3072.8 L1227.3 3070.2 L1230.4 3067.6 L1233.4 3065 L1236.4 3062.3 L1239.6 3059.5 L1242.9 3056.6 L1246.1 3053.8 L1249.3 3050.9 L1252.6 3047.9 L1255.8 3044.7 L1259.1 3041.3 L1262.3 3037.7 L1265.3 3034 L1268.4 3030 L1271.4 3025.8 L1274.4 3021.3 L1277.5 3016.6 L1280.5 3011.9 L1283.5 3007 L1286.6 3002.2 L1289.6 2997.4 L1292.9 2992.3 L1296.2 2987.2 L1299.5 2982.1 L1302.8 2976.9 L1306 2971.6 L1309.3 2966.1 L1312.6 2960.3 L1315.9 2954.3 L1319.2 2947.8 L1322.6 2940.5 L1326 2932.3 L1329.4 2923.6 L1332.7 2914.7 L1336.1 2905.6 L1339.5 2896.7 L1342.9 2888.3 L1345.9 2881.2 L1348.9 2874.4 L1351.9 2867.7 L1354.9 2861.2 L1357.9 2854.7 L1361 2848.1 L1364 2841.5 L1367 2834.6 L1370 2827.5 L1373 2820.1 L1376 2812.3 L1379.3 2803.1 L1382.6 2793.1 L1385.9 2782.6 L1389.1 2771.9 L1392.4 2761.2 L1395.7 2750.7 L1399 2740.6 L1402.3 2730.8 L1405.7 2721.1 L1409 2711.5 L1412.3 2702 L1415.7 2692.7 L1419 2683.5 L1422.4 2674.3 L1425.7 2665.3 L1428.7 2657.3 L1431.7 2649.5 L1434.7 2641.9 L1437.7 2634.4 L1440.7 2626.9 L1443.8 2619.5 L1446.8 2612 L1449.8 2604.4 L1452.8 2596.6 L1455.8 2588.7 L1458.8 2580.5 L1462.3 2570.2 L1465.8 2559 L1469.2 2547.6 L1472.7 2536.6 L1476.2 2526.6 L1479.7 2518.5 L1482.8 2512.7 L1485.8 2507.5 L1488.9 2502.9 L1492 2498.7 L1495 2494.8 L1498.1 2491 L1501.1 2487.1 L1504.2 2483.1 L1507.3 2478.8 L1510.3 2474.1 L1513.4 2468.8 L1516.5 2462.1 L1519.5 2453.7 L1522.5 2444.4 L1525.6 2434.9 L1528.7 2426.1 L1531.7 2418.7 L1534.8 2413.6 L1537.8 2411.4 L1541 2411 L1544.2 2410.6 L1547.4 2410.3 L1550.6 2410 L1553.8 2409.8 L1557 2409.6 L1560.2 2409.5 L1563.4 2409.4 L1566.6 2409.4 L1569.6 2409.6 L1572.6 2410.1 L1575.6 2411 L1578.6 2412.2 L1581.7 2413.6 L1584.7 2415.4 L1587.7 2417.3 L1590.7 2419.4 L1593.7 2421.7 L1596.7 2424.2 L1599.7 2426.8 L1602.8 2429.5 L1605.8 2432.2 L1608.8 2435 L1611.8 2437.8 L1614.8 2440.6 L1617.8 2443.6 L1620.8 2446.9 L1623.9 2450.6 L1626.9 2454.6 L1629.9 2458.9 L1632.9 2463.5 L1635.9 2468.3 L1638.9 2473.4 L1642 2478.7 L1645 2484.1 L1648 2489.8 L1651 2496 L1654.1 2502.8 L1657.1 2510.2 L1660.2 2518.1 L1663.2 2526.3 L1666.2 2534.7 L1669.3 2543.3 L1672.3 2551.9 L1675.4 2560.9 L1678.5 2570.5 L1681.5 2580.6 L1684.6 2590.9 L1687.7 2601.3 L1690.8 2611.7 L1693.9 2621.9 L1696.9 2631.8 L1700 2641.2 L1703.1 2650 L1706.3 2658.6 L1709.5 2667 L1712.7 2675 L1715.9 2682.8 L1719.1 2690.3 L1722.3 2697.5 L1725.5 2704.5 L1728.5 2710.7 L1731.5 2716.6 L1734.5 2722.3 L1737.5 2727.8 L1740.5 2733.2 L1743.5 2738.6 L1746.5 2743.9 L1749.5 2749.4 L1752.5 2755.1 L1755.5 2761 L1758.5 2767.2 L1761.5 2773.5 L1764.6 2779.9 L1767.6 2786.5 L1770.6 2793.1 L1773.6 2799.8 L1776.6 2806.5 L1779.7 2813.2 L1782.7 2819.9 L1785.7 2826.5 L1788.8 2833.4 L1791.8 2840.5 L1794.9 2847.6 L1798 2854.7 L1801.1 2861.5 L1804.1 2867.9 L1807.2 2873.7 L1810.2 2878.9 L1813.2 2884 L1816.2 2888.8 L1819.2 2893.4 L1822.2 2897.9 L1825.3 2902.2 L1828.3 2906.3 L1831.3 2910.4 L1834.3 2914.4 L1837.3 2918.3 L1840.3 2922.1 L1843.5 2926 L1846.7 2929.8 L1849.8 2933.3 L1853 2936.8 L1856.2 2940.3 L1859.4 2943.7 L1862.5 2947.1 L1865.7 2950.6 L1868.9 2954.2 L1871.9 2957.7 L1874.9 2961.3 L1877.9 2964.9 L1880.9 2968.5 L1883.9 2972.2 L1886.9 2975.7 L1889.9 2979.2 L1892.9 2982.5 L1896 2985.8 L1899.1 2989.1 L1902.2 2992.2 L1905.3 2995.4 L1908.5 2998.4 L1911.6 3001.5 L1914.7 3004.5 L1917.8 3007.5 L1920.9 3010.5 L1924 3013.6 L1927.1 3016.7 L1930.3 3019.7 L1933.4 3022.7 L1936.5 3025.7 L1939.6 3028.8 L1942.8 3031.9 L1945.9 3035.1 L1949.1 3038.8 L1952.3 3043 L1955.4 3047.6 L1958.6 3052.4 L1961.8 3057 L1965 3061.3 L1968.2 3065.1 L1971.3 3068.2 L1974.5 3070.2 L1977.7 3071.1 L1981 3071.3 L1984.2 3071.4 L1987.5 3071.5 L1990.8 3071.5 L1994.1 3071.6 L1997.4 3071.7 L2000.6 3071.8 L2003.9 3072 L2007.3 3072.8 L2010.6 3074.6 L2014 3077.1 L2017.4 3079.9 L2020.8 3082.7 L2024.1 3085.3 L2027.5 3087.2 L2030.6 3088.5 L2033.7 3089.7 L2036.8 3090.8 L2040 3091.8 L2043.1 3092.7 L2046.2 3093.5 L2049.3 3094.3 L2052.4 3095.1 L2055.5 3095.9 L2058.6 3096.7 L2061.7 3097.6 L2064.9 3098.5 L2068 3099.5 L2071.1 3100.6 L2074.2 3101.8 L2077.3 3103.2 L2080.5 3104.8 L2083.8 3106.8 L2087 3108.9 L2090.3 3111.3 L2093.5 3113.8 L2096.8 3116.4 L2100 3119.2 L2103.2 3122 L2106.5 3124.7 L2109.7 3127.5 L2113 3130.2 L2116.2 3132.8 L2119.4 3135.6 L2122.5 3138.7 L2125.7 3142.1 L2128.8 3145.4 L2132 3148.3 L2135.2 3150.8 L2138.3 3152.4 L2141.5 3153 L2144.7 3152.2 L2147.8 3150 L2151 3147 L2154.2 3143.5 L2157.3 3140.1 L2160.5 3137.1 L2163.6 3134.9 L2166.8 3134.1 L2169.9 3134.2 L2173 3134.7 L2176.1 3135.4 L2179.2 3136.6 L2182.3 3138.1 L2185.4 3140 L2188.5 3142.5 L2191.6 3145.4 L2194.7 3148.8" fill="none" stroke="#0000ff" stroke-width="10.5" stroke-linejoin="round" stroke-linecap="round"/>
<path d="M281.1 3138.8L302.5 3175.9L259.7 3175.9Z" fill="#0000ff"/>
<path d="M308.4 3138.9L329.8 3176L287 3176Z" fill="#0000ff"/>
<path d="M335.7 3139L357.1 3176.1L314.3 3176.1Z" fill="#0000ff"/>
<path d="M363 3139.1L384.4 3176.2L341.6 3176.2Z" fill="#0000ff"/>
<path d="M390.3 3139.2L411.7 3176.3L368.9 3176.3Z" fill="#0000ff"/>
<path d="M417.6 3139.2L439 3176.3L396.2 3176.3Z" fill="#0000ff"/>
<path d="M444.9 3139.2L466.3 3176.3L423.5 3176.3Z" fill="#0000ff"/>
<path d="M472.2 3139.2L493.6 3176.3L450.8 3176.3Z" fill="#0000ff"/>
<path d="M499.5 3139.2L520.9 3176.3L478.1 3176.3Z" fill="#0000ff"/>
<path d="M526.8 3139.1L548.2 3176.2L505.4 3176.2Z" fill="#0000ff"/>
<path d="M554.1 3138.7L575.5 3175.8L532.7 3175.8Z" fill="#0000ff"/>
<path d="M581.4 3138.2L602.8 3175.3L560 3175.3Z" fill="#0000ff"/>
<path d="M608.7 3137.5L630.1 3174.6L587.3 3174.6Z" fill="#0000ff"/>
<path d="M636 3136.8L657.4 3173.9L614.6 3173.9Z" fill="#0000ff"/>
<path d="M663.3 3136.1L684.7 3173.2L641.9 3173.2Z" fill="#0000ff"/>
<path d="M690.6 3135.5L712 3172.6L669.2 3172.6Z" fill="#0000ff"/>
<path d="M717.9 3135L739.3 3172.1L696.5 3172.1Z" fill="#0000ff"/>
<path d="M745.2 3134.5L766.6 3171.6L723.8 3171.6Z" fill="#0000ff"/>
<path d="M772.5 3134.1L793.9 3171.2L751.1 3171.2Z" fill="#0000ff"/>
<path d="M799.8 3133.7L821.2 3170.8L778.4 3170.8Z" fill="#0000ff"/>
<path d="M827.1 3133.2L848.5 3170.3L805.7 3170.3Z" fill="#0000ff"/>
<path d="M854.4 3132.6L875.8 3169.7L833 3169.7Z" fill="#0000ff"/>
<path d="M881.7 3131.8L903.1 3168.9L860.3 3168.9Z" fill="#0000ff"/>
<path d="M909 3130.7L930.4 3167.8L887.6 3167.8Z" fill="#0000ff"/>
<path d="M936.3 3127.8L957.7 3164.9L914.9 3164.9Z" fill="#0000ff"/>
<path d="M963.6 3124.7L985 3161.8L942.2 3161.8Z" fill="#0000ff"/>
<path d="M991.7 3122.6L1013.1 3159.7L970.3 3159.7Z" fill="#0000ff"/>
<path d="M1016.6 3120.3L1038 3157.4L995.2 3157.4Z" fill="#0000ff"/>
<path d="M1046.2 3116.1L1067.6 3153.2L1024.8 3153.2Z" fill="#0000ff"/>
<path d="M1071.9 3111.7L1093.3 3148.8L1050.5 3148.8Z" fill="#0000ff"/>
<path d="M1102.3 3107L1123.7 3144.1L1080.9 3144.1Z" fill="#0000ff"/>
<path d="M1124.1 3100.8L1145.5 3137.9L1102.7 3137.9Z" fill="#0000ff"/>
<path d="M1155.8 3089.9L1177.2 3127L1134.4 3127Z" fill="#0000ff"/>
<path d="M1181 3077.9L1202.4 3115L1159.6 3115Z" fill="#0000ff"/>
<path d="M1206.2 3062.3L1227.6 3099.4L1184.8 3099.4Z" fill="#0000ff"/>
<path d="M1236.4 3037.6L1257.8 3074.7L1215 3074.7Z" fill="#0000ff"/>
<path d="M1262.3 3013L1283.7 3050.1L1240.9 3050.1Z" fill="#0000ff"/>
<path d="M1289.6 2972.7L1311 3009.8L1268.2 3009.8Z" fill="#0000ff"/>
<path d="M1319.2 2923.1L1340.6 2960.2L1297.8 2960.2Z" fill="#0000ff"/>
<path d="M1342.9 2863.6L1364.3 2900.7L1321.5 2900.7Z" fill="#0000ff"/>
<path d="M1376 2787.6L1397.4 2824.7L1354.6 2824.7Z" fill="#0000ff"/>
<path d="M1399 2715.9L1420.4 2753L1377.6 2753Z" fill="#0000ff"/>
<path d="M1425.7 2640.6L1447.1 2677.7L1404.3 2677.7Z" fill="#0000ff"/>
<path d="M1458.8 2555.8L1480.2 2592.9L1437.4 2592.9Z" fill="#0000ff"/>
<path d="M1479.7 2493.8L1501.1 2530.9L1458.3 2530.9Z" fill="#0000ff"/>
<path d="M1513.4 2444.1L1534.8 2481.2L1492 2481.2Z" fill="#0000ff"/>
<path d="M1537.8 2386.7L1559.2 2423.8L1516.4 2423.8Z" fill="#0000ff"/>
<path d="M1566.6 2384.7L1588 2421.8L1545.2 2421.8Z" fill="#0000ff"/>
<path d="M1614.8 2415.9L1636.2 2453L1593.4 2453Z" fill="#0000ff"/>
<path d="M1648 2465.1L1669.4 2502.2L1626.6 2502.2Z" fill="#0000ff"/>
<path d="M1672.3 2527.2L1693.7 2564.3L1650.9 2564.3Z" fill="#0000ff"/>
<path d="M1703.1 2625.3L1724.5 2662.4L1681.7 2662.4Z" fill="#0000ff"/>
<path d="M1725.5 2679.8L1746.9 2716.9L1704.1 2716.9Z" fill="#0000ff"/>
<path d="M1755.5 2736.3L1776.9 2773.4L1734.1 2773.4Z" fill="#0000ff"/>
<path d="M1785.7 2801.8L1807.1 2838.9L1764.3 2838.9Z" fill="#0000ff"/>
<path d="M1807.2 2849L1828.6 2886.1L1785.8 2886.1Z" fill="#0000ff"/>
<path d="M1840.3 2897.4L1861.7 2934.5L1818.9 2934.5Z" fill="#0000ff"/>
<path d="M1868.9 2929.5L1890.3 2966.6L1847.5 2966.6Z" fill="#0000ff"/>
<path d="M1892.9 2957.8L1914.3 2994.9L1871.5 2994.9Z" fill="#0000ff"/>
<path d="M1924 2988.9L1945.4 3026L1902.6 3026Z" fill="#0000ff"/>
<path d="M1945.9 3010.4L1967.3 3047.5L1924.5 3047.5Z" fill="#0000ff"/>
<path d="M1977.7 3046.4L1999.1 3083.5L1956.3 3083.5Z" fill="#0000ff"/>
<path d="M2003.9 3047.3L2025.3 3084.4L1982.5 3084.4Z" fill="#0000ff"/>
<path d="M2027.5 3062.5L2048.9 3099.6L2006.1 3099.6Z" fill="#0000ff"/>
<path d="M2077.3 3078.5L2098.7 3115.6L2055.9 3115.6Z" fill="#0000ff"/>
<path d="M2116.2 3108.1L2137.6 3145.2L2094.8 3145.2Z" fill="#0000ff"/>
<path d="M2141.5 3128.3L2162.9 3165.4L2120.1 3165.4Z" fill="#0000ff"/>
<path d="M2166.8 3109.4L2188.2 3146.5L2145.4 3146.5Z" fill="#0000ff"/>
<path d="M2194.7 3124.1L2216.1 3161.2L2173.3 3161.2Z" fill="#0000ff"/>
</g>
<g clip-path="url(#cb)">
<path d="M279.8 3167.6 L282.8 3167.7 L285.9 3167.8 L288.9 3167.8 L291.9 3167.9 L295 3168 L298 3168.1 L301 3168.1 L304.1 3168.2 L307.1 3168.3 L310.1 3168.4 L313.2 3168.4 L316.2 3168.5 L319.2 3168.5 L322.3 3168.6 L325.3 3168.7 L328.3 3168.7 L331.4 3168.8 L334.4 3168.8 L337.4 3168.9 L340.5 3168.9 L343.5 3169 L346.5 3169 L349.6 3169.1 L352.6 3169.1 L355.6 3169.2 L358.7 3169.2 L361.7 3169.3 L364.7 3169.3 L367.8 3169.3 L370.8 3169.4 L373.8 3169.4 L376.9 3169.4 L379.9 3169.5 L382.9 3169.5 L386 3169.5 L389 3169.6 L392 3169.6 L395.1 3169.6 L398.1 3169.6 L401.1 3169.7 L404.2 3169.7 L407.2 3169.7 L410.2 3169.7 L413.3 3169.8 L416.3 3169.8 L419.3 3169.8 L422.4 3169.8 L425.4 3169.8 L428.4 3169.8 L431.5 3169.9 L434.5 3169.9 L437.5 3169.9 L440.6 3169.9 L443.6 3169.9 L446.6 3169.9 L449.7 3169.9 L452.7 3169.9 L455.7 3169.9 L458.8 3170 L461.8 3170 L464.8 3170 L467.9 3170 L470.9 3170 L473.9 3170 L477 3170 L480 3170 L483 3170 L486.1 3170 L489.1 3170 L492.1 3170 L495.2 3170 L498.2 3170 L501.2 3170 L504.3 3170 L507.3 3170 L510.3 3170 L513.4 3169.9 L516.4 3169.9 L519.4 3169.9 L522.5 3169.9 L525.5 3169.9 L528.5 3169.8 L531.6 3169.8 L534.6 3169.8 L537.6 3169.7 L540.7 3169.7 L543.7 3169.6 L546.7 3169.6 L549.8 3169.5 L552.8 3169.5 L555.8 3169.4 L558.9 3169.3 L561.9 3169.3 L564.9 3169.2 L568 3169.1 L571 3169.1 L574 3169 L577.1 3168.9 L580.1 3168.8 L583.1 3168.8 L586.2 3168.7 L589.2 3168.6 L592.2 3168.5 L595.3 3168.4 L598.3 3168.4 L601.3 3168.3 L604.4 3168.2 L607.4 3168.1 L610.4 3168 L613.5 3167.9 L616.5 3167.8 L619.5 3167.7 L622.6 3167.7 L625.6 3167.6 L628.6 3167.5 L631.7 3167.4 L634.7 3167.3 L637.7 3167.2 L640.8 3167.1 L643.8 3167 L646.8 3166.9 L649.9 3166.8 L652.9 3166.7 L655.9 3166.7 L659 3166.6 L662 3166.5 L665 3166.4 L668.1 3166.3 L671.1 3166.2 L674.1 3166.1 L677.2 3166.1 L680.2 3166 L683.2 3165.9 L686.3 3165.8 L689.3 3165.8 L692.3 3165.7 L695.4 3165.6 L698.4 3165.5 L701.4 3165.5 L704.5 3165.4 L707.5 3165.3 L710.5 3165.3 L713.6 3165.2 L716.6 3165.1 L719.6 3165.1 L722.7 3165 L725.7 3165 L728.7 3164.9 L731.8 3164.9 L734.8 3164.8 L737.8 3164.7 L740.9 3164.7 L743.9 3164.6 L746.9 3164.6 L750 3164.5 L753 3164.5 L756 3164.4 L759.1 3164.4 L762.1 3164.3 L765.1 3164.3 L768.2 3164.2 L771.2 3164.2 L774.2 3164.1 L777.3 3164.1 L780.3 3164 L783.3 3164 L786.4 3163.9 L789.4 3163.9 L792.4 3163.8 L795.5 3163.8 L798.5 3163.7 L801.5 3163.6 L804.6 3163.6 L807.6 3163.5 L810.6 3163.5 L813.7 3163.4 L816.7 3163.4 L819.7 3163.3 L822.8 3163.2 L825.8 3163.2 L828.8 3163.1 L831.9 3163 L834.9 3163 L837.9 3162.9 L841 3162.8 L844 3162.8 L847 3162.7 L850.1 3162.6 L853.1 3162.5 L856.1 3162.4 L859.2 3162.4 L862.2 3162.3 L865.2 3162.2 L868.3 3162.1 L871.3 3162 L874.3 3161.9 L877.4 3161.8 L880.4 3161.7 L883.4 3161.6 L886.5 3161.5 L889.5 3161.4 L892.5 3161.3 L895.6 3161.2 L898.6 3161 L901.6 3160.9 L904.7 3160.8 L907.7 3160.6 L910.7 3160.4 L913.8 3160.2 L916.8 3159.9 L919.8 3159.6 L922.9 3159.3 L925.9 3159 L928.9 3158.6 L932 3158.3 L935 3158.1 L938 3157.8 L941.1 3157.5 L944.1 3157.2 L947.1 3156.9 L950.2 3156.7 L953.2 3156.4 L956.2 3156.2 L959.3 3156 L962.3 3155.8 L965.4 3155.7 L968.5 3155.5 L971.6 3155.4 L974.7 3155.3 L977.7 3155.2 L980.8 3155.1 L983.9 3155 L987 3154.9 L990.1 3154.8 L993.4 3154.6 L996.7 3154.5 L1000 3154.3 L1003.4 3154.1 L1006.7 3153.9 L1010 3153.7 L1013.3 3153.5 L1016.6 3153.2 L1019.9 3152.9 L1023.2 3152.6 L1026.5 3152.2 L1029.8 3151.8 L1033.2 3151.4 L1036.5 3151 L1039.8 3150.5 L1043.1 3150.1 L1046.3 3149.7 L1049.5 3149.3 L1052.7 3148.8 L1055.9 3148.4 L1059.1 3147.9 L1062.3 3147.5 L1065.5 3147 L1068.7 3146.6 L1071.9 3146.2 L1075.2 3145.8 L1078.5 3145.4 L1081.8 3145.1 L1085.2 3144.7 L1088.5 3144.4 L1091.8 3144 L1095.1 3143.6 L1098.4 3143.1 L1101.5 3142.6 L1104.6 3142.1 L1107.8 3141.5 L1110.9 3140.9 L1114 3140.2 L1117.1 3139.6 L1120.3 3138.9 L1123.4 3138.3 L1126.5 3137.6 L1129.8 3136.9 L1133 3136.3 L1136.3 3135.6 L1139.6 3134.9 L1142.9 3134.2 L1146.2 3133.5 L1149.4 3132.7 L1152.7 3131.9 L1155.9 3131 L1159.2 3130.1 L1162.4 3129.1 L1165.6 3128.1 L1168.9 3127.1 L1172.1 3126 L1175.3 3124.8 L1178.6 3123.7 L1181.8 3122.5 L1184.8 3121.4 L1187.8 3120.2 L1190.9 3119 L1193.9 3117.8 L1196.9 3116.6 L1199.9 3115.3 L1203 3113.9 L1206 3112.5 L1209 3111 L1212.2 3109.4 L1215.4 3107.7 L1218.6 3105.9 L1221.8 3104.1 L1224.9 3102.2 L1228.1 3100.2 L1231.3 3098 L1234.5 3095.8 L1237.7 3093.5 L1240.8 3091 L1244 3088.3 L1247.1 3085.4 L1250.3 3082.4 L1253.4 3079.2 L1256.6 3076 L1259.7 3072.7 L1263 3069.2 L1266.3 3065.6 L1269.7 3061.9 L1273 3058.1 L1276.3 3054.3 L1279.6 3050.3 L1283 3046.2 L1286.3 3042 L1289.6 3037.7 L1292.9 3033.3 L1296.2 3028.8 L1299.5 3024.1 L1302.8 3019.3 L1306.1 3014.3 L1309.4 3009.2 L1312.7 3003.9 L1316 2998.4 L1319.3 2992.8 L1322.6 2987 L1326 2981 L1329.3 2974.8 L1332.6 2968.5 L1335.9 2961.8 L1339.3 2955 L1342.6 2947.8 L1345.9 2940.3 L1349.2 2932.4 L1352.5 2924 L1355.8 2915.1 L1359.1 2905.8 L1362.3 2896.3 L1365.6 2886.5 L1368.9 2876.6 L1372.2 2866.6 L1375.5 2856.5 L1378.8 2846.1 L1382.1 2835.4 L1385.3 2824.5 L1388.6 2813.5 L1391.9 2802.3 L1395.2 2791.2 L1398.5 2780 L1401.7 2769.2 L1404.9 2758.3 L1408 2747.4 L1411.2 2736.4 L1414.4 2725.3 L1417.6 2714.1 L1420.7 2702.8 L1423.9 2691.4 L1427.1 2679.8 L1430.4 2667.4 L1433.7 2654.4 L1437 2641.2 L1440.3 2628 L1443.7 2614.8 L1447 2602 L1450.3 2589.6 L1453.6 2578 L1456.9 2567.1 L1460.1 2556.5 L1463.4 2546.1 L1466.6 2536 L1469.9 2526.1 L1473.1 2516.6 L1476.4 2507.3 L1479.6 2498.3 L1482.9 2489.6 L1486.2 2481.2 L1489.5 2473.2 L1492.8 2465.5 L1496.1 2458 L1499.3 2450.6 L1502.6 2443.2 L1505.9 2435.8 L1509.2 2428.3 L1512.3 2420.7 L1515.4 2412.4 L1518.5 2403.9 L1521.6 2395.5 L1524.7 2387.6 L1527.8 2380.7 L1530.9 2375 L1534 2371 L1537.2 2368 L1540.3 2365.1 L1543.5 2362.4 L1546.7 2359.9 L1549.8 2357.8 L1553 2356 L1556.2 2354.7 L1559.3 2353.9 L1562.5 2353.6 L1565.7 2354 L1568.8 2355.3 L1572 2357.2 L1575.1 2359.7 L1578.2 2362.6 L1581.4 2365.8 L1584.5 2369.3 L1587.7 2372.9 L1590.8 2376.5 L1594 2380 L1597 2383.4 L1600.1 2387 L1603.1 2390.9 L1606.2 2395.2 L1609.2 2399.8 L1612.3 2404.8 L1615.3 2410.2 L1618.3 2416.5 L1621.4 2424.1 L1624.4 2432.6 L1627.5 2441.7 L1630.5 2451.4 L1633.5 2461.2 L1636.6 2471 L1639.6 2480.4 L1642.7 2489.3 L1645.7 2497.4 L1648.9 2504.9 L1652 2511.7 L1655.2 2517.9 L1658.3 2523.8 L1661.5 2529.6 L1664.7 2535.3 L1667.8 2541.3 L1671 2547.7 L1674.1 2554.6 L1677.3 2562.3 L1680.4 2570.9 L1683.6 2580.6 L1687.5 2598.2 L1691.4 2620.2 L1695.3 2639 L1698.5 2650.6 L1701.8 2661.2 L1705 2671 L1708.3 2680 L1711.5 2688.6 L1714.8 2696.7 L1718 2704.8 L1721.3 2712.8 L1724.5 2720.9 L1727.8 2729.4 L1731 2738.4 L1734.1 2747.6 L1737.2 2757.2 L1740.3 2766.9 L1743.5 2776.5 L1746.6 2785.8 L1749.7 2794.5 L1752.8 2802.3 L1756 2809.6 L1759.3 2816.3 L1762.5 2822.7 L1765.8 2828.7 L1769 2834.5 L1772.3 2840.3 L1775.5 2846.1 L1778.8 2852.2 L1782 2858.5 L1785 2864.8 L1788 2871.3 L1791.1 2878 L1794.1 2884.9 L1797.1 2891.7 L1800.1 2898.4 L1803.1 2904.9 L1806.2 2911.2 L1809.2 2917 L1812.2 2922.4 L1815.2 2927.3 L1818.2 2931.8 L1821.3 2936.1 L1824.3 2940.2 L1827.3 2944.2 L1830.4 2948.3 L1833.4 2952.5 L1836.4 2956.9 L1839.4 2961.7 L1842.5 2966.9 L1845.5 2972.2 L1848.6 2977.7 L1851.6 2983 L1854.7 2988.2 L1857.7 2992.9 L1860.8 2997.2 L1863.8 3000.9 L1866.9 3004 L1870 3006.8 L1873.1 3009.3 L1876.2 3011.6 L1879.3 3013.8 L1882.4 3016 L1885.5 3018.3 L1888.6 3020.9 L1891.7 3023.7 L1894.8 3026.9 L1897.9 3030.5 L1901 3034.4 L1904.1 3038.5 L1907.2 3042.5 L1910.3 3046.6 L1913.4 3050.5 L1916.5 3054.1 L1919.6 3057.4 L1922.6 3060.4 L1925.6 3063.3 L1928.7 3066.1 L1931.7 3068.8 L1934.7 3071.4 L1937.7 3073.9 L1940.8 3076.2 L1943.8 3078.3 L1946.8 3080.2 L1949.9 3082 L1953 3083.7 L1956.2 3085.3 L1959.3 3086.8 L1962.4 3088.3 L1965.5 3089.6 L1968.7 3090.8 L1971.8 3092 L1974.9 3093.1 L1978.1 3094 L1981.2 3094.8 L1984.3 3095.5 L1987.4 3096.3 L1990.6 3097 L1993.7 3097.9 L1996.8 3098.8 L2000 3099.8 L2003.1 3101.1 L2006.3 3102.9 L2009.4 3105.3 L2012.6 3108.1 L2015.8 3111.1 L2018.9 3114.2 L2022.1 3117 L2025.2 3119.5 L2028.4 3121.3 L2031.7 3122.7 L2035 3123.8 L2038.3 3124.8 L2041.6 3125.7 L2044.9 3126.5 L2048.1 3127.3 L2051.4 3128.1 L2054.7 3129.1 L2058 3130.2 L2061.3 3131.5 L2064.4 3133.2 L2067.4 3135.3 L2070.5 3137.8 L2073.6 3140.4 L2076.6 3143 L2079.7 3145.3 L2082.7 3147.1 L2085.8 3148.4 L2088.9 3149.2 L2092 3150 L2095.1 3150.7 L2098.2 3151.3 L2101.2 3151.8 L2104.3 3152.3 L2107.4 3152.7 L2110.5 3153.1 L2113.6 3153.4 L2116.9 3153.7 L2120.2 3153.9 L2123.4 3154.1 L2126.7 3154.3 L2130 3154.4 L2133.2 3154.6 L2136.5 3154.8 L2139.8 3155.1 L2143.1 3155.4 L2146.4 3155.8 L2149.6 3156.2 L2152.9 3156.7 L2156.2 3157.3 L2159.4 3157.9 L2162.7 3158.6 L2166 3159.3 L2169 3160.1 L2172 3161.1 L2175 3162.3 L2178 3163.6 L2181 3165.1 L2184 3166.7 L2187 3168.4 L2190 3170.1 L2193 3172" fill="none" stroke="#008080" stroke-width="10.5" stroke-linejoin="round" stroke-linecap="round"/>
<path d="M279.8 3192.3L301.2 3155.2L258.4 3155.2Z" fill="#008080"/>
<path d="M307.1 3193L328.5 3155.9L285.7 3155.9Z" fill="#008080"/>
<path d="M334.4 3193.5L355.8 3156.4L313 3156.4Z" fill="#008080"/>
<path d="M361.7 3194L383.1 3156.9L340.3 3156.9Z" fill="#008080"/>
<path d="M389 3194.3L410.4 3157.2L367.6 3157.2Z" fill="#008080"/>
<path d="M416.3 3194.5L437.7 3157.4L394.9 3157.4Z" fill="#008080"/>
<path d="M443.6 3194.6L465 3157.5L422.2 3157.5Z" fill="#008080"/>
<path d="M470.9 3194.7L492.3 3157.6L449.5 3157.6Z" fill="#008080"/>
<path d="M498.2 3194.7L519.6 3157.6L476.8 3157.6Z" fill="#008080"/>
<path d="M525.5 3194.6L546.9 3157.5L504.1 3157.5Z" fill="#008080"/>
<path d="M552.8 3194.2L574.2 3157.1L531.4 3157.1Z" fill="#008080"/>
<path d="M580.1 3193.5L601.5 3156.4L558.7 3156.4Z" fill="#008080"/>
<path d="M607.4 3192.8L628.8 3155.7L586 3155.7Z" fill="#008080"/>
<path d="M634.7 3192L656.1 3154.9L613.3 3154.9Z" fill="#008080"/>
<path d="M662 3191.2L683.4 3154.1L640.6 3154.1Z" fill="#008080"/>
<path d="M689.3 3190.5L710.7 3153.4L667.9 3153.4Z" fill="#008080"/>
<path d="M716.6 3189.8L738 3152.7L695.2 3152.7Z" fill="#008080"/>
<path d="M743.9 3189.3L765.3 3152.2L722.5 3152.2Z" fill="#008080"/>
<path d="M771.2 3188.9L792.6 3151.8L749.8 3151.8Z" fill="#008080"/>
<path d="M798.5 3188.4L819.9 3151.3L777.1 3151.3Z" fill="#008080"/>
<path d="M825.8 3187.9L847.2 3150.8L804.4 3150.8Z" fill="#008080"/>
<path d="M853.1 3187.2L874.5 3150.1L831.7 3150.1Z" fill="#008080"/>
<path d="M880.4 3186.4L901.8 3149.3L859 3149.3Z" fill="#008080"/>
<path d="M907.7 3185.3L929.1 3148.2L886.3 3148.2Z" fill="#008080"/>
<path d="M935 3182.8L956.4 3145.7L913.6 3145.7Z" fill="#008080"/>
<path d="M962.3 3180.5L983.7 3143.4L940.9 3143.4Z" fill="#008080"/>
<path d="M990.1 3179.5L1011.5 3142.4L968.7 3142.4Z" fill="#008080"/>
<path d="M1016.6 3177.9L1038 3140.8L995.2 3140.8Z" fill="#008080"/>
<path d="M1043.1 3174.8L1064.5 3137.7L1021.7 3137.7Z" fill="#008080"/>
<path d="M1071.9 3170.9L1093.3 3133.8L1050.5 3133.8Z" fill="#008080"/>
<path d="M1098.4 3167.8L1119.8 3130.7L1077 3130.7Z" fill="#008080"/>
<path d="M1126.5 3162.3L1147.9 3125.2L1105.1 3125.2Z" fill="#008080"/>
<path d="M1152.7 3156.6L1174.1 3119.5L1131.3 3119.5Z" fill="#008080"/>
<path d="M1181.8 3147.2L1203.2 3110.1L1160.4 3110.1Z" fill="#008080"/>
<path d="M1209 3135.7L1230.4 3098.6L1187.6 3098.6Z" fill="#008080"/>
<path d="M1237.7 3118.2L1259.1 3081.1L1216.3 3081.1Z" fill="#008080"/>
<path d="M1259.7 3097.4L1281.1 3060.3L1238.3 3060.3Z" fill="#008080"/>
<path d="M1289.6 3062.4L1311 3025.3L1268.2 3025.3Z" fill="#008080"/>
<path d="M1316 3023.1L1337.4 2986L1294.6 2986Z" fill="#008080"/>
<path d="M1345.9 2965L1367.3 2927.9L1324.5 2927.9Z" fill="#008080"/>
<path d="M1372.2 2891.3L1393.6 2854.2L1350.8 2854.2Z" fill="#008080"/>
<path d="M1398.5 2804.7L1419.9 2767.6L1377.1 2767.6Z" fill="#008080"/>
<path d="M1427.1 2704.5L1448.5 2667.4L1405.7 2667.4Z" fill="#008080"/>
<path d="M1453.6 2602.7L1475 2565.6L1432.2 2565.6Z" fill="#008080"/>
<path d="M1482.9 2514.3L1504.3 2477.2L1461.5 2477.2Z" fill="#008080"/>
<path d="M1509.2 2453L1530.6 2415.9L1487.8 2415.9Z" fill="#008080"/>
<path d="M1534 2395.7L1555.4 2358.6L1512.6 2358.6Z" fill="#008080"/>
<path d="M1562.5 2378.3L1583.9 2341.2L1541.1 2341.2Z" fill="#008080"/>
<path d="M1594 2404.7L1615.4 2367.6L1572.6 2367.6Z" fill="#008080"/>
<path d="M1615.3 2434.9L1636.7 2397.8L1593.9 2397.8Z" fill="#008080"/>
<path d="M1645.7 2522.1L1667.1 2485L1624.3 2485Z" fill="#008080"/>
<path d="M1683.6 2605.3L1705 2568.2L1662.2 2568.2Z" fill="#008080"/>
<path d="M1695.3 2663.7L1716.7 2626.6L1673.9 2626.6Z" fill="#008080"/>
<path d="M1731 2763.1L1752.4 2726L1709.6 2726Z" fill="#008080"/>
<path d="M1752.8 2827L1774.2 2789.9L1731.4 2789.9Z" fill="#008080"/>
<path d="M1782 2883.2L1803.4 2846.1L1760.6 2846.1Z" fill="#008080"/>
<path d="M1812.2 2947.1L1833.6 2910L1790.8 2910Z" fill="#008080"/>
<path d="M1836.4 2981.6L1857.8 2944.5L1815 2944.5Z" fill="#008080"/>
<path d="M1863.8 3025.6L1885.2 2988.5L1842.4 2988.5Z" fill="#008080"/>
<path d="M1891.7 3048.4L1913.1 3011.3L1870.3 3011.3Z" fill="#008080"/>
<path d="M1919.6 3082.1L1941 3045L1898.2 3045Z" fill="#008080"/>
<path d="M1946.8 3104.9L1968.2 3067.8L1925.4 3067.8Z" fill="#008080"/>
<path d="M1971.8 3116.7L1993.2 3079.6L1950.4 3079.6Z" fill="#008080"/>
<path d="M2003.1 3125.8L2024.5 3088.7L1981.7 3088.7Z" fill="#008080"/>
<path d="M2028.4 3146L2049.8 3108.9L2007 3108.9Z" fill="#008080"/>
<path d="M2061.3 3156.2L2082.7 3119.1L2039.9 3119.1Z" fill="#008080"/>
<path d="M2085.8 3173.1L2107.2 3136L2064.4 3136Z" fill="#008080"/>
<path d="M2113.6 3178.1L2135 3141L2092.2 3141Z" fill="#008080"/>
<path d="M2139.8 3179.8L2161.2 3142.7L2118.4 3142.7Z" fill="#008080"/>
<path d="M2166 3184L2187.4 3146.9L2144.6 3146.9Z" fill="#008080"/>
<path d="M2193 3196.7L2214.4 3159.6L2171.6 3159.6Z" fill="#008080"/>
</g>
<path d="M280.4 42.9H2202.6V1474H280.4Z" fill="none" stroke="#000" stroke-width="5.4" stroke-linejoin="round"/>
<path d="M440.6 1474V1445.3 M760.9 1474V1445.3 M1081.3 1474V1445.3 M1401.7 1474V1445.3 M1722 1474V1445.3 M2042.4 1474V1445.3 M600.8 1474V1459.5 M921.1 1474V1459.5 M1241.5 1474V1459.5 M1561.9 1474V1459.5 M1882.2 1474V1459.5 M280.4 1065.1H309.1 M280.4 656.2H309.1 M280.4 247.3H309.1 M280.4 1269.6H294.9 M280.4 860.7H294.9 M280.4 451.8H294.9" stroke="#000" stroke-width="5.45" stroke-linecap="round"/>
<path d="M280.4 1833.9H2202.6V3264.7H280.4Z" fill="none" stroke="#000" stroke-width="5.4" stroke-linejoin="round"/>
<path d="M440.6 3264.7V3236 M760.9 3264.7V3236 M1081.3 3264.7V3236 M1401.7 3264.7V3236 M1722 3264.7V3236 M2042.4 3264.7V3236 M600.8 3264.7V3250.2 M921.1 3264.7V3250.2 M1241.5 3264.7V3250.2 M1561.9 3264.7V3250.2 M1882.2 3264.7V3250.2 M280.4 3185.2H309.1 M280.4 2867.3H309.1 M280.4 2549.3H309.1 M280.4 2231.3H309.1 M280.4 1913.4H309.1 M280.4 3026.2H294.9 M280.4 2708.3H294.9 M280.4 2390.3H294.9 M280.4 2072.4H294.9" stroke="#000" stroke-width="5.45" stroke-linecap="round"/>
<text x="440.6" y="1574" class="tl" text-anchor="middle">-60</text>
<text x="760.9" y="1574" class="tl" text-anchor="middle">-40</text>
<text x="1081.3" y="1574" class="tl" text-anchor="middle">-20</text>
<text x="1401.7" y="1574" class="tl" text-anchor="middle">0</text>
<text x="1722" y="1574" class="tl" text-anchor="middle">20</text>
<text x="2042.4" y="1574" class="tl" text-anchor="middle">40</text>
<text x="250.7" y="1499.5" class="tl" text-anchor="end">6</text>
<text x="250.7" y="1090.6" class="tl" text-anchor="end">7</text>
<text x="250.7" y="681.7" class="tl" text-anchor="end">8</text>
<text x="250.7" y="272.8" class="tl" text-anchor="end">9</text>
<text x="440.6" y="3365" class="tl" text-anchor="middle">-60</text>
<text x="760.9" y="3365" class="tl" text-anchor="middle">-40</text>
<text x="1081.3" y="3365" class="tl" text-anchor="middle">-20</text>
<text x="1401.7" y="3365" class="tl" text-anchor="middle">0</text>
<text x="1722" y="3365" class="tl" text-anchor="middle">20</text>
<text x="2042.4" y="3365" class="tl" text-anchor="middle">40</text>
<text x="250" y="3209.7" class="tl" text-anchor="end">0.0</text>
<text x="250" y="2891.8" class="tl" text-anchor="end">0.4</text>
<text x="250" y="2573.8" class="tl" text-anchor="end">0.8</text>
<text x="250" y="2255.8" class="tl" text-anchor="end">1.2</text>
<text x="250" y="1937.9" class="tl" text-anchor="end">1.6</text>
<text transform="translate(909.6 1662.7) scale(0.9770 1.0190)" style="font-weight:bold;font-size:90px">Temperature (</text>
<text transform="translate(1455.8 1613.5)" style="font-weight:bold;font-size:53.5px">o</text>
<text transform="translate(1481.3 1662.7) scale(1.0000 1.0200)" style="font-weight:bold;font-size:90px">C)</text>
<text transform="translate(909.6 3452.2) scale(0.9770 1.0190)" style="font-weight:bold;font-size:90px">Temperature (</text>
<text transform="translate(1455.8 3403)" style="font-weight:bold;font-size:53.5px">o</text>
<text transform="translate(1481.3 3452.2) scale(1.0000 1.0200)" style="font-weight:bold;font-size:90px">C)</text>
<text transform="translate(167.5 1038.9) rotate(-90)" style="font-weight:bold;font-size:90px">log E' (MPa)</text>
<text transform="translate(106.9 2736.1) rotate(-90) scale(0.9975 1)" style="font-weight:bold;font-size:90px">Tan delta</text>
<text transform="translate(96.9 114)" style="font-weight:bold;font-size:88.3px">(a)</text>
<text transform="translate(33.2 1904.8) scale(0.9960 1.0000)" style="font-weight:bold;font-size:88.3px">(b)</text>
<path d="M380 1030.3H561.5" stroke="#000000" stroke-width="11" stroke-linecap="round"/>
<rect x="454.6" y="1014.3" width="32" height="32" fill="#000000"/>
<text transform="translate(583 1057.1) scale(1.0000 1.0200)" style="font-weight:bold;font-size:81.2px">neat PU</text>
<path d="M380 1132.2H561.5" stroke="#ff0000" stroke-width="11" stroke-linecap="round"/>
<circle cx="470.6" cy="1132.2" r="17.6" fill="#ff0000"/>
<text transform="translate(583.8 1159.4) scale(1.0000 1.0200)" style="font-weight:bold;font-size:81.2px">PU/ATT8</text>
<path d="M380 1234.7H561.5" stroke="#0000ff" stroke-width="11" stroke-linecap="round"/>
<path d="M470.6 1210L492 1247.1L449.2 1247.1Z" fill="#0000ff"/>
<text transform="translate(583.8 1261.8) scale(1.0000 1.0200)" style="font-weight:bold;font-size:81.2px">PU/acid-ATT8</text>
<path d="M380 1337.5H561.5" stroke="#008080" stroke-width="11" stroke-linecap="round"/>
<path d="M470.6 1362.2L492 1325.1L449.2 1325.1Z" fill="#008080"/>
<text transform="translate(583.8 1364.4) scale(1.0000 1.0200)" style="font-weight:bold;font-size:81.2px">PU/KH560-ATT8</text>
<path d="M346 1910.5H501.5" stroke="#000000" stroke-width="10.7" stroke-linecap="round"/>
<rect x="407.8" y="1894.5" width="32" height="32" fill="#000000"/>
<text transform="translate(520.5 1934) scale(1.0000 1.0200)" style="font-weight:bold;font-size:69px">neat PU (</text>
<text transform="translate(795.7 1934) scale(1.0600 1.0350)" style="font-weight:bold;font-style:italic;font-size:69px">T</text>
<text transform="translate(837.7 1962)" style="font-weight:bold;font-size:40px">g</text>
<text transform="translate(874.8 1934) scale(1.0000 1.0200)" style="font-weight:bold;font-size:69px">5.5</text>
<text transform="translate(960.3 1894.7)" style="font-weight:bold;font-size:40px">o</text>
<text transform="translate(979.6 1934) scale(1.0400 1.0200)" style="font-weight:bold;font-size:69px">C)</text>
<path d="M346 2033.6H501.5" stroke="#ff0000" stroke-width="10.7" stroke-linecap="round"/>
<circle cx="423.8" cy="2033.6" r="17.6" fill="#ff0000"/>
<text transform="translate(521.2 2057.5) scale(1.0000 1.0200)" style="font-weight:bold;font-size:69px">PU/ATT8 (</text>
<text transform="translate(848.2 2057.5) scale(1.0600 1.0350)" style="font-weight:bold;font-style:italic;font-size:69px">T</text>
<text transform="translate(890.2 2085.5)" style="font-weight:bold;font-size:40px">g</text>
<text transform="translate(927.2 2057.5) scale(1.0000 1.0200)" style="font-weight:bold;font-size:69px">6.5</text>
<text transform="translate(1012.7 2018.2)" style="font-weight:bold;font-size:40px">o</text>
<text transform="translate(1032.1 2057.5) scale(1.0400 1.0200)" style="font-weight:bold;font-size:69px">C)</text>
<path d="M346 2156.7H501.5" stroke="#0000ff" stroke-width="10.7" stroke-linecap="round"/>
<path d="M423.8 2132L445.2 2169.1L402.4 2169.1Z" fill="#0000ff"/>
<text transform="translate(521.2 2179.6) scale(1.0000 1.0200)" style="font-weight:bold;font-size:69px">PU/acid-ATT8 (</text>
<text transform="translate(993.9 2179.6) scale(1.0600 1.0350)" style="font-weight:bold;font-style:italic;font-size:69px">T</text>
<text transform="translate(1035.8 2207.6)" style="font-weight:bold;font-size:40px">g</text>
<text transform="translate(1072.9 2179.6) scale(1.0000 1.0200)" style="font-weight:bold;font-size:69px">11.1</text>
<text transform="translate(1191.9 2140.3)" style="font-weight:bold;font-size:40px">o</text>
<text transform="translate(1211.2 2179.6) scale(1.0400 1.0200)" style="font-weight:bold;font-size:69px">C)</text>
<path d="M346 2279.8H501.5" stroke="#008080" stroke-width="10.7" stroke-linecap="round"/>
<path d="M423.8 2304.5L445.2 2267.4L402.4 2267.4Z" fill="#008080"/>
<text transform="translate(521.2 2304.3) scale(1.0000 1.0200)" style="font-weight:bold;font-size:69px">PU/KH560-ATT8 (</text>
<text transform="translate(1082 2304.3) scale(1.0600 1.0350)" style="font-weight:bold;font-style:italic;font-size:69px">T</text>
<text transform="translate(1124 2332.3)" style="font-weight:bold;font-size:40px">g</text>
<text transform="translate(1161.1 2304.3) scale(1.0000 1.0200)" style="font-weight:bold;font-size:69px">10.6</text>
<text transform="translate(1281.6 2265)" style="font-weight:bold;font-size:40px">o</text>
<text transform="translate(1300.9 2304.3) scale(1.0400 1.0200)" style="font-weight:bold;font-size:69px">C)</text>
</svg></body></html>
